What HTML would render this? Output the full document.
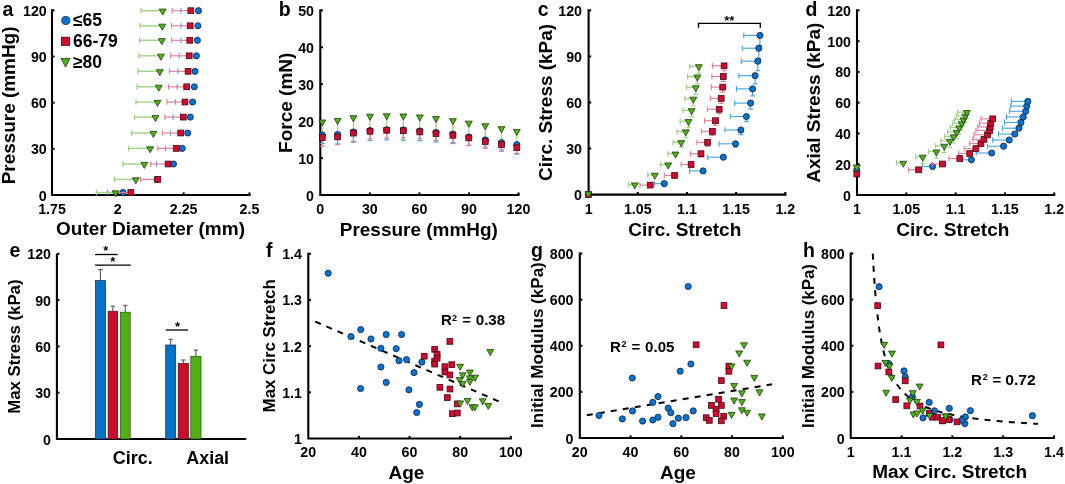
<!DOCTYPE html>
<html><head><meta charset="utf-8"><style>
html,body{margin:0;padding:0;background:#fff;}
svg{display:block;filter:blur(0.3px);}
text{font-family:"Liberation Sans",sans-serif;fill:#000;}
</style></head><body>
<svg width="1065" height="484" viewBox="0 0 1065 484">
<rect width="1065" height="484" fill="#fff"/>
<path d="M52 10.4 V195 H249.5" fill="none" stroke="#000" stroke-width="2.1" stroke-linecap="square"/>
<line x1="52" y1="10.4" x2="54.6" y2="10.4" stroke="#000" stroke-width="2" />
<line x1="52" y1="56.55" x2="54.6" y2="56.55" stroke="#000" stroke-width="2" />
<line x1="52" y1="102.7" x2="54.6" y2="102.7" stroke="#000" stroke-width="2" />
<line x1="52" y1="148.85" x2="54.6" y2="148.85" stroke="#000" stroke-width="2" />
<line x1="117.83" y1="195" x2="117.83" y2="192.4" stroke="#000" stroke-width="2" />
<line x1="183.67" y1="195" x2="183.67" y2="192.4" stroke="#000" stroke-width="2" />
<line x1="249.5" y1="195" x2="249.5" y2="192.4" stroke="#000" stroke-width="2" />
<text x="46.8" y="15.9" font-size="15.5" text-anchor="end" textLength="23.79" lengthAdjust="spacingAndGlyphs" font-weight="bold" >120</text>
<text x="46.8" y="62.05" font-size="15.5" text-anchor="end" textLength="15.86" lengthAdjust="spacingAndGlyphs" font-weight="bold" >90</text>
<text x="46.8" y="108.2" font-size="15.5" text-anchor="end" textLength="15.86" lengthAdjust="spacingAndGlyphs" font-weight="bold" >60</text>
<text x="46.8" y="154.35" font-size="15.5" text-anchor="end" textLength="15.86" lengthAdjust="spacingAndGlyphs" font-weight="bold" >30</text>
<text x="46.8" y="200.5" font-size="15.5" text-anchor="end" textLength="7.93" lengthAdjust="spacingAndGlyphs" font-weight="bold" >0</text>
<text x="52" y="214.1" font-size="15.5" text-anchor="middle" textLength="27.75" lengthAdjust="spacingAndGlyphs" font-weight="bold" >1.75</text>
<text x="117.83" y="214.1" font-size="15.5" text-anchor="middle" textLength="7.93" lengthAdjust="spacingAndGlyphs" font-weight="bold" >2</text>
<text x="183.67" y="214.1" font-size="15.5" text-anchor="middle" textLength="27.75" lengthAdjust="spacingAndGlyphs" font-weight="bold" >2.25</text>
<text x="249.5" y="214.1" font-size="15.5" text-anchor="middle" textLength="19.82" lengthAdjust="spacingAndGlyphs" font-weight="bold" >2.5</text>
<text x="56.04" y="235.2" font-size="18" text-anchor="start" textLength="188.95" lengthAdjust="spacingAndGlyphs" font-weight="bold" >Outer Diameter (mm)</text>
<text x="15.3" y="184.33" font-size="17.5" text-anchor="start" transform="rotate(-90 15.3 184.33)" textLength="157.8" lengthAdjust="spacingAndGlyphs" font-weight="bold" >Pressure (mmHg)</text>
<text x="2.52" y="15.6" font-size="19.5" text-anchor="start" font-weight="bold" >a</text>
<line x1="180.9" y1="7.9" x2="180.9" y2="13.5" stroke="#46a2dc" stroke-width="1.1" />
<line x1="181" y1="23" x2="181" y2="28.6" stroke="#46a2dc" stroke-width="1.1" />
<line x1="181" y1="37.5" x2="181" y2="43.1" stroke="#46a2dc" stroke-width="1.1" />
<line x1="179.3" y1="53" x2="179.3" y2="58.6" stroke="#46a2dc" stroke-width="1.1" />
<line x1="177.8" y1="68.5" x2="177.8" y2="74.1" stroke="#46a2dc" stroke-width="1.1" />
<line x1="177.2" y1="84" x2="177.2" y2="89.6" stroke="#46a2dc" stroke-width="1.1" />
<line x1="175.3" y1="99.2" x2="175.3" y2="104.8" stroke="#46a2dc" stroke-width="1.1" />
<line x1="173.1" y1="114.3" x2="173.1" y2="119.9" stroke="#46a2dc" stroke-width="1.1" />
<line x1="170.7" y1="130.2" x2="170.7" y2="135.8" stroke="#46a2dc" stroke-width="1.1" />
<line x1="165.5" y1="145.6" x2="165.5" y2="151.2" stroke="#46a2dc" stroke-width="1.1" />
<line x1="156.6" y1="161.2" x2="156.6" y2="166.8" stroke="#46a2dc" stroke-width="1.1" />
<line x1="155" y1="176.6" x2="155" y2="182.2" stroke="#46a2dc" stroke-width="1.1" />
<line x1="107.4" y1="192.5" x2="123" y2="192.5" stroke="#46a2dc" stroke-width="1.1" />
<line x1="107.4" y1="189.7" x2="107.4" y2="195.3" stroke="#46a2dc" stroke-width="1.1" />
<circle cx="198.5" cy="10.7" r="3.1" fill="#0a72cf" stroke="#0a2548" stroke-width="0.8"/>
<circle cx="197.9" cy="25.8" r="3.1" fill="#0a72cf" stroke="#0a2548" stroke-width="0.8"/>
<circle cx="197.4" cy="40.3" r="3.1" fill="#0a72cf" stroke="#0a2548" stroke-width="0.8"/>
<circle cx="196.4" cy="55.8" r="3.1" fill="#0a72cf" stroke="#0a2548" stroke-width="0.8"/>
<circle cx="195" cy="71.3" r="3.1" fill="#0a72cf" stroke="#0a2548" stroke-width="0.8"/>
<circle cx="194.3" cy="86.8" r="3.1" fill="#0a72cf" stroke="#0a2548" stroke-width="0.8"/>
<circle cx="192.6" cy="102" r="3.1" fill="#0a72cf" stroke="#0a2548" stroke-width="0.8"/>
<circle cx="190.3" cy="117.1" r="3.1" fill="#0a72cf" stroke="#0a2548" stroke-width="0.8"/>
<circle cx="187.7" cy="133" r="3.1" fill="#0a72cf" stroke="#0a2548" stroke-width="0.8"/>
<circle cx="182.2" cy="148.4" r="3.1" fill="#0a72cf" stroke="#0a2548" stroke-width="0.8"/>
<circle cx="173.5" cy="164" r="3.1" fill="#0a72cf" stroke="#0a2548" stroke-width="0.8"/>
<circle cx="157" cy="179.4" r="3.1" fill="#0a72cf" stroke="#0a2548" stroke-width="0.8"/>
<circle cx="123" cy="192.5" r="3.1" fill="#0a72cf" stroke="#0a2548" stroke-width="0.8"/>
<line x1="172.2" y1="10.7" x2="190.8" y2="10.7" stroke="#e67890" stroke-width="1.1" />
<line x1="172.2" y1="7.9" x2="172.2" y2="13.5" stroke="#e67890" stroke-width="1.1" />
<line x1="171.6" y1="25.8" x2="190.2" y2="25.8" stroke="#e67890" stroke-width="1.1" />
<line x1="171.6" y1="23" x2="171.6" y2="28.6" stroke="#e67890" stroke-width="1.1" />
<line x1="171.6" y1="40.3" x2="189.8" y2="40.3" stroke="#e67890" stroke-width="1.1" />
<line x1="171.6" y1="37.5" x2="171.6" y2="43.1" stroke="#e67890" stroke-width="1.1" />
<line x1="170.6" y1="55.8" x2="189.2" y2="55.8" stroke="#e67890" stroke-width="1.1" />
<line x1="170.6" y1="53" x2="170.6" y2="58.6" stroke="#e67890" stroke-width="1.1" />
<line x1="169.5" y1="71.3" x2="188.1" y2="71.3" stroke="#e67890" stroke-width="1.1" />
<line x1="169.5" y1="68.5" x2="169.5" y2="74.1" stroke="#e67890" stroke-width="1.1" />
<line x1="168.5" y1="86.8" x2="186.7" y2="86.8" stroke="#e67890" stroke-width="1.1" />
<line x1="168.5" y1="84" x2="168.5" y2="89.6" stroke="#e67890" stroke-width="1.1" />
<line x1="167" y1="102" x2="185" y2="102" stroke="#e67890" stroke-width="1.1" />
<line x1="167" y1="99.2" x2="167" y2="104.8" stroke="#e67890" stroke-width="1.1" />
<line x1="164.9" y1="117.1" x2="183.3" y2="117.1" stroke="#e67890" stroke-width="1.1" />
<line x1="164.9" y1="114.3" x2="164.9" y2="119.9" stroke="#e67890" stroke-width="1.1" />
<line x1="162.3" y1="133" x2="180.7" y2="133" stroke="#e67890" stroke-width="1.1" />
<line x1="162.3" y1="130.2" x2="162.3" y2="135.8" stroke="#e67890" stroke-width="1.1" />
<line x1="157.9" y1="148.4" x2="176.2" y2="148.4" stroke="#e67890" stroke-width="1.1" />
<line x1="157.9" y1="145.6" x2="157.9" y2="151.2" stroke="#e67890" stroke-width="1.1" />
<line x1="150.8" y1="164" x2="168.1" y2="164" stroke="#e67890" stroke-width="1.1" />
<line x1="150.8" y1="161.2" x2="150.8" y2="166.8" stroke="#e67890" stroke-width="1.1" />
<line x1="140.5" y1="179.4" x2="157.8" y2="179.4" stroke="#e67890" stroke-width="1.1" />
<line x1="140.5" y1="176.6" x2="140.5" y2="182.2" stroke="#e67890" stroke-width="1.1" />
<line x1="114.5" y1="192.5" x2="130.8" y2="192.5" stroke="#e67890" stroke-width="1.1" />
<line x1="114.5" y1="189.7" x2="114.5" y2="195.3" stroke="#e67890" stroke-width="1.1" />
<rect x="187.9" y="7.8" width="5.8" height="5.8" fill="#cf0b30" stroke="#4a0812" stroke-width="0.8"/>
<rect x="187.3" y="22.9" width="5.8" height="5.8" fill="#cf0b30" stroke="#4a0812" stroke-width="0.8"/>
<rect x="186.9" y="37.4" width="5.8" height="5.8" fill="#cf0b30" stroke="#4a0812" stroke-width="0.8"/>
<rect x="186.3" y="52.9" width="5.8" height="5.8" fill="#cf0b30" stroke="#4a0812" stroke-width="0.8"/>
<rect x="185.2" y="68.4" width="5.8" height="5.8" fill="#cf0b30" stroke="#4a0812" stroke-width="0.8"/>
<rect x="183.8" y="83.9" width="5.8" height="5.8" fill="#cf0b30" stroke="#4a0812" stroke-width="0.8"/>
<rect x="182.1" y="99.1" width="5.8" height="5.8" fill="#cf0b30" stroke="#4a0812" stroke-width="0.8"/>
<rect x="180.4" y="114.2" width="5.8" height="5.8" fill="#cf0b30" stroke="#4a0812" stroke-width="0.8"/>
<rect x="177.8" y="130.1" width="5.8" height="5.8" fill="#cf0b30" stroke="#4a0812" stroke-width="0.8"/>
<rect x="173.3" y="145.5" width="5.8" height="5.8" fill="#cf0b30" stroke="#4a0812" stroke-width="0.8"/>
<rect x="165.2" y="161.1" width="5.8" height="5.8" fill="#cf0b30" stroke="#4a0812" stroke-width="0.8"/>
<rect x="154.9" y="176.5" width="5.8" height="5.8" fill="#cf0b30" stroke="#4a0812" stroke-width="0.8"/>
<rect x="127.9" y="189.6" width="5.8" height="5.8" fill="#cf0b30" stroke="#4a0812" stroke-width="0.8"/>
<line x1="141.2" y1="10.7" x2="162.7" y2="10.7" stroke="#a0d286" stroke-width="1.4" />
<line x1="141.2" y1="7.9" x2="141.2" y2="13.5" stroke="#a0d286" stroke-width="1.4" />
<line x1="140.2" y1="25.8" x2="162.3" y2="25.8" stroke="#a0d286" stroke-width="1.4" />
<line x1="140.2" y1="23" x2="140.2" y2="28.6" stroke="#a0d286" stroke-width="1.4" />
<line x1="139.6" y1="40.3" x2="161.9" y2="40.3" stroke="#a0d286" stroke-width="1.4" />
<line x1="139.6" y1="37.5" x2="139.6" y2="43.1" stroke="#a0d286" stroke-width="1.4" />
<line x1="139" y1="55.8" x2="160.9" y2="55.8" stroke="#a0d286" stroke-width="1.4" />
<line x1="139" y1="53" x2="139" y2="58.6" stroke="#a0d286" stroke-width="1.4" />
<line x1="138.1" y1="71.3" x2="159.8" y2="71.3" stroke="#a0d286" stroke-width="1.4" />
<line x1="138.1" y1="68.5" x2="138.1" y2="74.1" stroke="#a0d286" stroke-width="1.4" />
<line x1="137.1" y1="86.8" x2="158.8" y2="86.8" stroke="#a0d286" stroke-width="1.4" />
<line x1="137.1" y1="84" x2="137.1" y2="89.6" stroke="#a0d286" stroke-width="1.4" />
<line x1="136" y1="102" x2="157.5" y2="102" stroke="#a0d286" stroke-width="1.4" />
<line x1="136" y1="99.2" x2="136" y2="104.8" stroke="#a0d286" stroke-width="1.4" />
<line x1="134.5" y1="117.1" x2="155.5" y2="117.1" stroke="#a0d286" stroke-width="1.4" />
<line x1="134.5" y1="114.3" x2="134.5" y2="119.9" stroke="#a0d286" stroke-width="1.4" />
<line x1="131.7" y1="133" x2="153.4" y2="133" stroke="#a0d286" stroke-width="1.4" />
<line x1="131.7" y1="130.2" x2="131.7" y2="135.8" stroke="#a0d286" stroke-width="1.4" />
<line x1="128.6" y1="148.4" x2="150.1" y2="148.4" stroke="#a0d286" stroke-width="1.4" />
<line x1="128.6" y1="145.6" x2="128.6" y2="151.2" stroke="#a0d286" stroke-width="1.4" />
<line x1="123" y1="164" x2="144.3" y2="164" stroke="#a0d286" stroke-width="1.4" />
<line x1="123" y1="161.2" x2="123" y2="166.8" stroke="#a0d286" stroke-width="1.4" />
<line x1="114.7" y1="179.4" x2="135.8" y2="179.4" stroke="#a0d286" stroke-width="1.4" />
<line x1="114.7" y1="176.6" x2="114.7" y2="182.2" stroke="#a0d286" stroke-width="1.4" />
<line x1="96.4" y1="192.5" x2="115.6" y2="192.5" stroke="#a0d286" stroke-width="1.4" />
<line x1="96.4" y1="189.7" x2="96.4" y2="195.3" stroke="#a0d286" stroke-width="1.4" />
<polygon points="159.25,9.05 166.15,9.05 162.7,15.15" fill="#4fb41a" stroke="#1c3008" stroke-width="0.75" stroke-linejoin="miter"/>
<polygon points="158.85,24.15 165.75,24.15 162.3,30.25" fill="#4fb41a" stroke="#1c3008" stroke-width="0.75" stroke-linejoin="miter"/>
<polygon points="158.45,38.65 165.35,38.65 161.9,44.75" fill="#4fb41a" stroke="#1c3008" stroke-width="0.75" stroke-linejoin="miter"/>
<polygon points="157.45,54.15 164.35,54.15 160.9,60.25" fill="#4fb41a" stroke="#1c3008" stroke-width="0.75" stroke-linejoin="miter"/>
<polygon points="156.35,69.65 163.25,69.65 159.8,75.75" fill="#4fb41a" stroke="#1c3008" stroke-width="0.75" stroke-linejoin="miter"/>
<polygon points="155.35,85.15 162.25,85.15 158.8,91.25" fill="#4fb41a" stroke="#1c3008" stroke-width="0.75" stroke-linejoin="miter"/>
<polygon points="154.05,100.35 160.95,100.35 157.5,106.45" fill="#4fb41a" stroke="#1c3008" stroke-width="0.75" stroke-linejoin="miter"/>
<polygon points="152.05,115.45 158.95,115.45 155.5,121.55" fill="#4fb41a" stroke="#1c3008" stroke-width="0.75" stroke-linejoin="miter"/>
<polygon points="149.95,131.35 156.85,131.35 153.4,137.45" fill="#4fb41a" stroke="#1c3008" stroke-width="0.75" stroke-linejoin="miter"/>
<polygon points="146.65,146.75 153.55,146.75 150.1,152.85" fill="#4fb41a" stroke="#1c3008" stroke-width="0.75" stroke-linejoin="miter"/>
<polygon points="140.85,162.35 147.75,162.35 144.3,168.45" fill="#4fb41a" stroke="#1c3008" stroke-width="0.75" stroke-linejoin="miter"/>
<polygon points="132.35,177.75 139.25,177.75 135.8,183.85" fill="#4fb41a" stroke="#1c3008" stroke-width="0.75" stroke-linejoin="miter"/>
<polygon points="112.15,190.85 119.05,190.85 115.6,196.95" fill="#4fb41a" stroke="#1c3008" stroke-width="0.75" stroke-linejoin="miter"/>
<circle cx="65.8" cy="20.5" r="4.1" fill="#0a72cf" stroke="#0a2548" stroke-width="0.8"/>
<rect x="61.4" y="37.2" width="8.2" height="8.2" fill="#cf0b30" stroke="#4a0812" stroke-width="0.8"/>
<polygon points="61,58.5 70,58.5 65.5,67.1" fill="#4fb41a" stroke="#1c3008" stroke-width="0.75" stroke-linejoin="miter"/>
<text x="73" y="26.3" font-size="17.5" text-anchor="start" font-weight="bold" >≤65</text>
<text x="73" y="46.8" font-size="17.5" text-anchor="start" font-weight="bold" >66-79</text>
<text x="73" y="68.2" font-size="17.5" text-anchor="start" font-weight="bold" >≥80</text>
<path d="M320.3 10.4 V195 H518.5" fill="none" stroke="#000" stroke-width="2.1" stroke-linecap="square"/>
<line x1="320.3" y1="10.4" x2="322.9" y2="10.4" stroke="#000" stroke-width="2" />
<line x1="320.3" y1="47.32" x2="322.9" y2="47.32" stroke="#000" stroke-width="2" />
<line x1="320.3" y1="84.24" x2="322.9" y2="84.24" stroke="#000" stroke-width="2" />
<line x1="320.3" y1="121.16" x2="322.9" y2="121.16" stroke="#000" stroke-width="2" />
<line x1="320.3" y1="158.08" x2="322.9" y2="158.08" stroke="#000" stroke-width="2" />
<line x1="369.85" y1="195" x2="369.85" y2="192.4" stroke="#000" stroke-width="2" />
<line x1="419.4" y1="195" x2="419.4" y2="192.4" stroke="#000" stroke-width="2" />
<line x1="468.95" y1="195" x2="468.95" y2="192.4" stroke="#000" stroke-width="2" />
<line x1="518.5" y1="195" x2="518.5" y2="192.4" stroke="#000" stroke-width="2" />
<text x="314" y="15.9" font-size="15.5" text-anchor="end" textLength="15.86" lengthAdjust="spacingAndGlyphs" font-weight="bold" >50</text>
<text x="314" y="52.82" font-size="15.5" text-anchor="end" textLength="15.86" lengthAdjust="spacingAndGlyphs" font-weight="bold" >40</text>
<text x="314" y="89.74" font-size="15.5" text-anchor="end" textLength="15.86" lengthAdjust="spacingAndGlyphs" font-weight="bold" >30</text>
<text x="314" y="126.66" font-size="15.5" text-anchor="end" textLength="15.86" lengthAdjust="spacingAndGlyphs" font-weight="bold" >20</text>
<text x="314" y="163.58" font-size="15.5" text-anchor="end" textLength="15.86" lengthAdjust="spacingAndGlyphs" font-weight="bold" >10</text>
<text x="314" y="200.5" font-size="15.5" text-anchor="end" textLength="7.93" lengthAdjust="spacingAndGlyphs" font-weight="bold" >0</text>
<text x="320.3" y="214" font-size="15.5" text-anchor="middle" textLength="7.93" lengthAdjust="spacingAndGlyphs" font-weight="bold" >0</text>
<text x="369.85" y="214" font-size="15.5" text-anchor="middle" textLength="15.86" lengthAdjust="spacingAndGlyphs" font-weight="bold" >30</text>
<text x="419.4" y="214" font-size="15.5" text-anchor="middle" textLength="15.86" lengthAdjust="spacingAndGlyphs" font-weight="bold" >60</text>
<text x="468.95" y="214" font-size="15.5" text-anchor="middle" textLength="15.86" lengthAdjust="spacingAndGlyphs" font-weight="bold" >90</text>
<text x="518.5" y="214" font-size="15.5" text-anchor="middle" textLength="23.79" lengthAdjust="spacingAndGlyphs" font-weight="bold" >120</text>
<text x="339.77" y="235.5" font-size="18" text-anchor="start" textLength="158.11" lengthAdjust="spacingAndGlyphs" font-weight="bold" >Pressure (mmHg)</text>
<text x="292" y="152.93" font-size="17.5" text-anchor="start" transform="rotate(-90 292 152.93)" textLength="100.25" lengthAdjust="spacingAndGlyphs" font-weight="bold" >Force (mN)</text>
<text x="278.63" y="15.5" font-size="19.5" text-anchor="start" font-weight="bold" >b</text>
<line x1="322.3" y1="121.6" x2="322.3" y2="132.5" stroke="#a0d286" stroke-width="1.3" />
<line x1="337.6" y1="120.1" x2="337.6" y2="132" stroke="#a0d286" stroke-width="1.3" />
<line x1="353.4" y1="117.3" x2="353.4" y2="129.5" stroke="#a0d286" stroke-width="1.3" />
<line x1="370" y1="115.9" x2="370" y2="128" stroke="#a0d286" stroke-width="1.3" />
<line x1="386.7" y1="115.4" x2="386.7" y2="127.3" stroke="#a0d286" stroke-width="1.3" />
<line x1="403.3" y1="115.6" x2="403.3" y2="127.5" stroke="#a0d286" stroke-width="1.3" />
<line x1="419.8" y1="116.6" x2="419.8" y2="128.5" stroke="#a0d286" stroke-width="1.3" />
<line x1="436" y1="118.2" x2="436" y2="130" stroke="#a0d286" stroke-width="1.3" />
<line x1="452.9" y1="120.3" x2="452.9" y2="131.5" stroke="#a0d286" stroke-width="1.3" />
<line x1="468.8" y1="122.8" x2="468.8" y2="134.5" stroke="#a0d286" stroke-width="1.3" />
<line x1="485.3" y1="125.4" x2="485.3" y2="137.4" stroke="#a0d286" stroke-width="1.3" />
<line x1="501.5" y1="128.3" x2="501.5" y2="140.1" stroke="#a0d286" stroke-width="1.3" />
<line x1="516.8" y1="131.1" x2="516.8" y2="142.2" stroke="#a0d286" stroke-width="1.3" />
<line x1="322.3" y1="135" x2="322.3" y2="143.5" stroke="#46a2dc" stroke-width="1.1" />
<line x1="319.8" y1="143.5" x2="324.8" y2="143.5" stroke="#46a2dc" stroke-width="1.1" />
<line x1="337.6" y1="134.5" x2="337.6" y2="143.9" stroke="#46a2dc" stroke-width="1.1" />
<line x1="335.1" y1="143.9" x2="340.1" y2="143.9" stroke="#46a2dc" stroke-width="1.1" />
<line x1="353.4" y1="132" x2="353.4" y2="142.2" stroke="#46a2dc" stroke-width="1.1" />
<line x1="350.9" y1="142.2" x2="355.9" y2="142.2" stroke="#46a2dc" stroke-width="1.1" />
<line x1="370" y1="130.5" x2="370" y2="140.6" stroke="#46a2dc" stroke-width="1.1" />
<line x1="367.5" y1="140.6" x2="372.5" y2="140.6" stroke="#46a2dc" stroke-width="1.1" />
<line x1="386.7" y1="129.8" x2="386.7" y2="139.9" stroke="#46a2dc" stroke-width="1.1" />
<line x1="384.2" y1="139.9" x2="389.2" y2="139.9" stroke="#46a2dc" stroke-width="1.1" />
<line x1="403.3" y1="130" x2="403.3" y2="140.2" stroke="#46a2dc" stroke-width="1.1" />
<line x1="400.8" y1="140.2" x2="405.8" y2="140.2" stroke="#46a2dc" stroke-width="1.1" />
<line x1="419.8" y1="131" x2="419.8" y2="140.7" stroke="#46a2dc" stroke-width="1.1" />
<line x1="417.3" y1="140.7" x2="422.3" y2="140.7" stroke="#46a2dc" stroke-width="1.1" />
<line x1="436" y1="132.5" x2="436" y2="142" stroke="#46a2dc" stroke-width="1.1" />
<line x1="433.5" y1="142" x2="438.5" y2="142" stroke="#46a2dc" stroke-width="1.1" />
<line x1="452.9" y1="134" x2="452.9" y2="143.6" stroke="#46a2dc" stroke-width="1.1" />
<line x1="450.4" y1="143.6" x2="455.4" y2="143.6" stroke="#46a2dc" stroke-width="1.1" />
<line x1="468.8" y1="137" x2="468.8" y2="145.6" stroke="#46a2dc" stroke-width="1.1" />
<line x1="466.3" y1="145.6" x2="471.3" y2="145.6" stroke="#46a2dc" stroke-width="1.1" />
<line x1="485.3" y1="139.9" x2="485.3" y2="147" stroke="#46a2dc" stroke-width="1.1" />
<line x1="482.8" y1="147" x2="487.8" y2="147" stroke="#46a2dc" stroke-width="1.1" />
<line x1="501.5" y1="142.6" x2="501.5" y2="150" stroke="#46a2dc" stroke-width="1.1" />
<line x1="499" y1="150" x2="504" y2="150" stroke="#46a2dc" stroke-width="1.1" />
<line x1="516.8" y1="144.7" x2="516.8" y2="154.2" stroke="#46a2dc" stroke-width="1.1" />
<line x1="514.3" y1="154.2" x2="519.3" y2="154.2" stroke="#46a2dc" stroke-width="1.1" />
<circle cx="322.3" cy="135" r="3.1" fill="#0a72cf" stroke="#0a2548" stroke-width="0.8"/>
<circle cx="337.6" cy="134.5" r="3.1" fill="#0a72cf" stroke="#0a2548" stroke-width="0.8"/>
<circle cx="353.4" cy="132" r="3.1" fill="#0a72cf" stroke="#0a2548" stroke-width="0.8"/>
<circle cx="370" cy="130.5" r="3.1" fill="#0a72cf" stroke="#0a2548" stroke-width="0.8"/>
<circle cx="386.7" cy="129.8" r="3.1" fill="#0a72cf" stroke="#0a2548" stroke-width="0.8"/>
<circle cx="403.3" cy="130" r="3.1" fill="#0a72cf" stroke="#0a2548" stroke-width="0.8"/>
<circle cx="419.8" cy="131" r="3.1" fill="#0a72cf" stroke="#0a2548" stroke-width="0.8"/>
<circle cx="436" cy="132.5" r="3.1" fill="#0a72cf" stroke="#0a2548" stroke-width="0.8"/>
<circle cx="452.9" cy="134" r="3.1" fill="#0a72cf" stroke="#0a2548" stroke-width="0.8"/>
<circle cx="468.8" cy="137" r="3.1" fill="#0a72cf" stroke="#0a2548" stroke-width="0.8"/>
<circle cx="485.3" cy="139.9" r="3.1" fill="#0a72cf" stroke="#0a2548" stroke-width="0.8"/>
<circle cx="501.5" cy="142.6" r="3.1" fill="#0a72cf" stroke="#0a2548" stroke-width="0.8"/>
<circle cx="516.8" cy="144.7" r="3.1" fill="#0a72cf" stroke="#0a2548" stroke-width="0.8"/>
<line x1="322.3" y1="137.5" x2="322.3" y2="146.2" stroke="#e67890" stroke-width="1.1" />
<line x1="319.8" y1="146.2" x2="324.8" y2="146.2" stroke="#e67890" stroke-width="1.1" />
<line x1="337.6" y1="136.9" x2="337.6" y2="144.7" stroke="#e67890" stroke-width="1.1" />
<line x1="335.1" y1="144.7" x2="340.1" y2="144.7" stroke="#e67890" stroke-width="1.1" />
<line x1="353.4" y1="133.1" x2="353.4" y2="141.4" stroke="#e67890" stroke-width="1.1" />
<line x1="350.9" y1="141.4" x2="355.9" y2="141.4" stroke="#e67890" stroke-width="1.1" />
<line x1="370" y1="131.3" x2="370" y2="138.9" stroke="#e67890" stroke-width="1.1" />
<line x1="367.5" y1="138.9" x2="372.5" y2="138.9" stroke="#e67890" stroke-width="1.1" />
<line x1="386.7" y1="130.3" x2="386.7" y2="138" stroke="#e67890" stroke-width="1.1" />
<line x1="384.2" y1="138" x2="389.2" y2="138" stroke="#e67890" stroke-width="1.1" />
<line x1="403.3" y1="130.7" x2="403.3" y2="137.9" stroke="#e67890" stroke-width="1.1" />
<line x1="400.8" y1="137.9" x2="405.8" y2="137.9" stroke="#e67890" stroke-width="1.1" />
<line x1="419.8" y1="131.9" x2="419.8" y2="138.7" stroke="#e67890" stroke-width="1.1" />
<line x1="417.3" y1="138.7" x2="422.3" y2="138.7" stroke="#e67890" stroke-width="1.1" />
<line x1="436" y1="133.6" x2="436" y2="140.5" stroke="#e67890" stroke-width="1.1" />
<line x1="433.5" y1="140.5" x2="438.5" y2="140.5" stroke="#e67890" stroke-width="1.1" />
<line x1="452.9" y1="135.3" x2="452.9" y2="142.5" stroke="#e67890" stroke-width="1.1" />
<line x1="450.4" y1="142.5" x2="455.4" y2="142.5" stroke="#e67890" stroke-width="1.1" />
<line x1="468.8" y1="137.9" x2="468.8" y2="145.4" stroke="#e67890" stroke-width="1.1" />
<line x1="466.3" y1="145.4" x2="471.3" y2="145.4" stroke="#e67890" stroke-width="1.1" />
<line x1="485.3" y1="141.5" x2="485.3" y2="148.4" stroke="#e67890" stroke-width="1.1" />
<line x1="482.8" y1="148.4" x2="487.8" y2="148.4" stroke="#e67890" stroke-width="1.1" />
<line x1="501.5" y1="144.6" x2="501.5" y2="151.3" stroke="#e67890" stroke-width="1.1" />
<line x1="499" y1="151.3" x2="504" y2="151.3" stroke="#e67890" stroke-width="1.1" />
<line x1="516.8" y1="147.7" x2="516.8" y2="153.4" stroke="#e67890" stroke-width="1.1" />
<line x1="514.3" y1="153.4" x2="519.3" y2="153.4" stroke="#e67890" stroke-width="1.1" />
<rect x="319.4" y="134.6" width="5.8" height="5.8" fill="#cf0b30" stroke="#4a0812" stroke-width="0.8"/>
<rect x="334.7" y="134" width="5.8" height="5.8" fill="#cf0b30" stroke="#4a0812" stroke-width="0.8"/>
<rect x="350.5" y="130.2" width="5.8" height="5.8" fill="#cf0b30" stroke="#4a0812" stroke-width="0.8"/>
<rect x="367.1" y="128.4" width="5.8" height="5.8" fill="#cf0b30" stroke="#4a0812" stroke-width="0.8"/>
<rect x="383.8" y="127.4" width="5.8" height="5.8" fill="#cf0b30" stroke="#4a0812" stroke-width="0.8"/>
<rect x="400.4" y="127.8" width="5.8" height="5.8" fill="#cf0b30" stroke="#4a0812" stroke-width="0.8"/>
<rect x="416.9" y="129" width="5.8" height="5.8" fill="#cf0b30" stroke="#4a0812" stroke-width="0.8"/>
<rect x="433.1" y="130.7" width="5.8" height="5.8" fill="#cf0b30" stroke="#4a0812" stroke-width="0.8"/>
<rect x="450" y="132.4" width="5.8" height="5.8" fill="#cf0b30" stroke="#4a0812" stroke-width="0.8"/>
<rect x="465.9" y="135" width="5.8" height="5.8" fill="#cf0b30" stroke="#4a0812" stroke-width="0.8"/>
<rect x="482.4" y="138.6" width="5.8" height="5.8" fill="#cf0b30" stroke="#4a0812" stroke-width="0.8"/>
<rect x="498.6" y="141.7" width="5.8" height="5.8" fill="#cf0b30" stroke="#4a0812" stroke-width="0.8"/>
<rect x="513.9" y="144.8" width="5.8" height="5.8" fill="#cf0b30" stroke="#4a0812" stroke-width="0.8"/>
<polygon points="318.85,119.95 325.75,119.95 322.3,126.05" fill="#4fb41a" stroke="#1c3008" stroke-width="0.75" stroke-linejoin="miter"/>
<polygon points="334.15,118.45 341.05,118.45 337.6,124.55" fill="#4fb41a" stroke="#1c3008" stroke-width="0.75" stroke-linejoin="miter"/>
<polygon points="349.95,115.65 356.85,115.65 353.4,121.75" fill="#4fb41a" stroke="#1c3008" stroke-width="0.75" stroke-linejoin="miter"/>
<polygon points="366.55,114.25 373.45,114.25 370,120.35" fill="#4fb41a" stroke="#1c3008" stroke-width="0.75" stroke-linejoin="miter"/>
<polygon points="383.25,113.75 390.15,113.75 386.7,119.85" fill="#4fb41a" stroke="#1c3008" stroke-width="0.75" stroke-linejoin="miter"/>
<polygon points="399.85,113.95 406.75,113.95 403.3,120.05" fill="#4fb41a" stroke="#1c3008" stroke-width="0.75" stroke-linejoin="miter"/>
<polygon points="416.35,114.95 423.25,114.95 419.8,121.05" fill="#4fb41a" stroke="#1c3008" stroke-width="0.75" stroke-linejoin="miter"/>
<polygon points="432.55,116.55 439.45,116.55 436,122.65" fill="#4fb41a" stroke="#1c3008" stroke-width="0.75" stroke-linejoin="miter"/>
<polygon points="449.45,118.65 456.35,118.65 452.9,124.75" fill="#4fb41a" stroke="#1c3008" stroke-width="0.75" stroke-linejoin="miter"/>
<polygon points="465.35,121.15 472.25,121.15 468.8,127.25" fill="#4fb41a" stroke="#1c3008" stroke-width="0.75" stroke-linejoin="miter"/>
<polygon points="481.85,123.75 488.75,123.75 485.3,129.85" fill="#4fb41a" stroke="#1c3008" stroke-width="0.75" stroke-linejoin="miter"/>
<polygon points="498.05,126.65 504.95,126.65 501.5,132.75" fill="#4fb41a" stroke="#1c3008" stroke-width="0.75" stroke-linejoin="miter"/>
<polygon points="513.35,129.45 520.25,129.45 516.8,135.55" fill="#4fb41a" stroke="#1c3008" stroke-width="0.75" stroke-linejoin="miter"/>
<path d="M588.6 10.4 V194.6 H785.3" fill="none" stroke="#000" stroke-width="2.1" stroke-linecap="square"/>
<line x1="588.6" y1="10.4" x2="591.2" y2="10.4" stroke="#000" stroke-width="2" />
<line x1="588.6" y1="56.45" x2="591.2" y2="56.45" stroke="#000" stroke-width="2" />
<line x1="588.6" y1="102.5" x2="591.2" y2="102.5" stroke="#000" stroke-width="2" />
<line x1="588.6" y1="148.55" x2="591.2" y2="148.55" stroke="#000" stroke-width="2" />
<line x1="637.77" y1="194.6" x2="637.77" y2="192" stroke="#000" stroke-width="2" />
<line x1="686.95" y1="194.6" x2="686.95" y2="192" stroke="#000" stroke-width="2" />
<line x1="736.12" y1="194.6" x2="736.12" y2="192" stroke="#000" stroke-width="2" />
<line x1="785.3" y1="194.6" x2="785.3" y2="192" stroke="#000" stroke-width="2" />
<text x="582" y="15.9" font-size="15.5" text-anchor="end" textLength="23.79" lengthAdjust="spacingAndGlyphs" font-weight="bold" >120</text>
<text x="582" y="61.95" font-size="15.5" text-anchor="end" textLength="15.86" lengthAdjust="spacingAndGlyphs" font-weight="bold" >90</text>
<text x="582" y="108" font-size="15.5" text-anchor="end" textLength="15.86" lengthAdjust="spacingAndGlyphs" font-weight="bold" >60</text>
<text x="582" y="154.05" font-size="15.5" text-anchor="end" textLength="15.86" lengthAdjust="spacingAndGlyphs" font-weight="bold" >30</text>
<text x="582" y="200.1" font-size="15.5" text-anchor="end" textLength="7.93" lengthAdjust="spacingAndGlyphs" font-weight="bold" >0</text>
<text x="588.6" y="214" font-size="15.5" text-anchor="middle" textLength="7.93" lengthAdjust="spacingAndGlyphs" font-weight="bold" >1</text>
<text x="637.77" y="214" font-size="15.5" text-anchor="middle" textLength="27.75" lengthAdjust="spacingAndGlyphs" font-weight="bold" >1.05</text>
<text x="686.95" y="214" font-size="15.5" text-anchor="middle" textLength="19.82" lengthAdjust="spacingAndGlyphs" font-weight="bold" >1.1</text>
<text x="736.12" y="214" font-size="15.5" text-anchor="middle" textLength="27.75" lengthAdjust="spacingAndGlyphs" font-weight="bold" >1.15</text>
<text x="785.3" y="214" font-size="15.5" text-anchor="middle" textLength="19.82" lengthAdjust="spacingAndGlyphs" font-weight="bold" >1.2</text>
<text x="628.24" y="235.5" font-size="18" text-anchor="start" textLength="113.03" lengthAdjust="spacingAndGlyphs" font-weight="bold" >Circ. Stretch</text>
<text x="552.5" y="180.96" font-size="17.5" text-anchor="start" transform="rotate(-90 552.5 180.96)" textLength="157.1" lengthAdjust="spacingAndGlyphs" font-weight="bold" >Circ. Stress (kPa)</text>
<text x="537.72" y="15.5" font-size="19.5" text-anchor="start" font-weight="bold" >c</text>
<line x1="654.4" y1="183.7" x2="664.3" y2="183.7" stroke="#46a2dc" stroke-width="1.1" />
<line x1="654.4" y1="180.9" x2="654.4" y2="186.5" stroke="#46a2dc" stroke-width="1.1" />
<line x1="689.6" y1="170.9" x2="703.1" y2="170.9" stroke="#46a2dc" stroke-width="1.1" />
<line x1="689.6" y1="168.1" x2="689.6" y2="173.7" stroke="#46a2dc" stroke-width="1.1" />
<line x1="707.8" y1="157.2" x2="723.3" y2="157.2" stroke="#46a2dc" stroke-width="1.1" />
<line x1="707.8" y1="154.4" x2="707.8" y2="160" stroke="#46a2dc" stroke-width="1.1" />
<line x1="719.2" y1="143.8" x2="735.5" y2="143.8" stroke="#46a2dc" stroke-width="1.1" />
<line x1="719.2" y1="141" x2="719.2" y2="146.6" stroke="#46a2dc" stroke-width="1.1" />
<line x1="735.5" y1="143.8" x2="735.5" y2="147.1" stroke="#46a2dc" stroke-width="1.1" />
<line x1="733" y1="147.1" x2="738" y2="147.1" stroke="#46a2dc" stroke-width="1.1" />
<line x1="724.8" y1="130" x2="740.9" y2="130" stroke="#46a2dc" stroke-width="1.1" />
<line x1="724.8" y1="127.2" x2="724.8" y2="132.8" stroke="#46a2dc" stroke-width="1.1" />
<line x1="740.9" y1="130" x2="740.9" y2="134.7" stroke="#46a2dc" stroke-width="1.1" />
<line x1="738.4" y1="134.7" x2="743.4" y2="134.7" stroke="#46a2dc" stroke-width="1.1" />
<line x1="730.3" y1="116.5" x2="746.4" y2="116.5" stroke="#46a2dc" stroke-width="1.1" />
<line x1="730.3" y1="113.7" x2="730.3" y2="119.3" stroke="#46a2dc" stroke-width="1.1" />
<line x1="746.4" y1="116.5" x2="746.4" y2="121.5" stroke="#46a2dc" stroke-width="1.1" />
<line x1="743.9" y1="121.5" x2="748.9" y2="121.5" stroke="#46a2dc" stroke-width="1.1" />
<line x1="734.7" y1="103.1" x2="750.6" y2="103.1" stroke="#46a2dc" stroke-width="1.1" />
<line x1="734.7" y1="100.3" x2="734.7" y2="105.9" stroke="#46a2dc" stroke-width="1.1" />
<line x1="750.6" y1="103.1" x2="750.6" y2="109.1" stroke="#46a2dc" stroke-width="1.1" />
<line x1="748.1" y1="109.1" x2="753.1" y2="109.1" stroke="#46a2dc" stroke-width="1.1" />
<line x1="736.5" y1="88.9" x2="752.6" y2="88.9" stroke="#46a2dc" stroke-width="1.1" />
<line x1="736.5" y1="86.1" x2="736.5" y2="91.7" stroke="#46a2dc" stroke-width="1.1" />
<line x1="752.6" y1="88.9" x2="752.6" y2="95.9" stroke="#46a2dc" stroke-width="1.1" />
<line x1="750.1" y1="95.9" x2="755.1" y2="95.9" stroke="#46a2dc" stroke-width="1.1" />
<line x1="738.8" y1="75.7" x2="755.1" y2="75.7" stroke="#46a2dc" stroke-width="1.1" />
<line x1="738.8" y1="72.9" x2="738.8" y2="78.5" stroke="#46a2dc" stroke-width="1.1" />
<line x1="755.1" y1="75.7" x2="755.1" y2="83.9" stroke="#46a2dc" stroke-width="1.1" />
<line x1="752.6" y1="83.9" x2="757.6" y2="83.9" stroke="#46a2dc" stroke-width="1.1" />
<line x1="741.3" y1="61.2" x2="757.8" y2="61.2" stroke="#46a2dc" stroke-width="1.1" />
<line x1="741.3" y1="58.4" x2="741.3" y2="64" stroke="#46a2dc" stroke-width="1.1" />
<line x1="757.8" y1="61.2" x2="757.8" y2="70.7" stroke="#46a2dc" stroke-width="1.1" />
<line x1="755.3" y1="70.7" x2="760.3" y2="70.7" stroke="#46a2dc" stroke-width="1.1" />
<line x1="742.3" y1="48.2" x2="758.8" y2="48.2" stroke="#46a2dc" stroke-width="1.1" />
<line x1="742.3" y1="45.4" x2="742.3" y2="51" stroke="#46a2dc" stroke-width="1.1" />
<line x1="758.8" y1="48.2" x2="758.8" y2="58.2" stroke="#46a2dc" stroke-width="1.1" />
<line x1="756.3" y1="58.2" x2="761.3" y2="58.2" stroke="#46a2dc" stroke-width="1.1" />
<line x1="743.8" y1="35.4" x2="759.9" y2="35.4" stroke="#46a2dc" stroke-width="1.1" />
<line x1="743.8" y1="32.6" x2="743.8" y2="38.2" stroke="#46a2dc" stroke-width="1.1" />
<line x1="759.9" y1="35.4" x2="759.9" y2="45.4" stroke="#46a2dc" stroke-width="1.1" />
<line x1="757.4" y1="45.4" x2="762.4" y2="45.4" stroke="#46a2dc" stroke-width="1.1" />
<circle cx="588.5" cy="194.6" r="3.1" fill="#0a72cf" stroke="#0a2548" stroke-width="0.8"/>
<circle cx="664.3" cy="183.7" r="3.1" fill="#0a72cf" stroke="#0a2548" stroke-width="0.8"/>
<circle cx="703.1" cy="170.9" r="3.1" fill="#0a72cf" stroke="#0a2548" stroke-width="0.8"/>
<circle cx="723.3" cy="157.2" r="3.1" fill="#0a72cf" stroke="#0a2548" stroke-width="0.8"/>
<circle cx="735.5" cy="143.8" r="3.1" fill="#0a72cf" stroke="#0a2548" stroke-width="0.8"/>
<circle cx="740.9" cy="130" r="3.1" fill="#0a72cf" stroke="#0a2548" stroke-width="0.8"/>
<circle cx="746.4" cy="116.5" r="3.1" fill="#0a72cf" stroke="#0a2548" stroke-width="0.8"/>
<circle cx="750.6" cy="103.1" r="3.1" fill="#0a72cf" stroke="#0a2548" stroke-width="0.8"/>
<circle cx="752.6" cy="88.9" r="3.1" fill="#0a72cf" stroke="#0a2548" stroke-width="0.8"/>
<circle cx="755.1" cy="75.7" r="3.1" fill="#0a72cf" stroke="#0a2548" stroke-width="0.8"/>
<circle cx="757.8" cy="61.2" r="3.1" fill="#0a72cf" stroke="#0a2548" stroke-width="0.8"/>
<circle cx="758.8" cy="48.2" r="3.1" fill="#0a72cf" stroke="#0a2548" stroke-width="0.8"/>
<circle cx="759.9" cy="35.4" r="3.1" fill="#0a72cf" stroke="#0a2548" stroke-width="0.8"/>
<line x1="639.9" y1="185.1" x2="650.2" y2="185.1" stroke="#e67890" stroke-width="1.1" />
<line x1="639.9" y1="182.3" x2="639.9" y2="187.9" stroke="#e67890" stroke-width="1.1" />
<line x1="664.3" y1="175.4" x2="674.6" y2="175.4" stroke="#e67890" stroke-width="1.1" />
<line x1="664.3" y1="172.6" x2="664.3" y2="178.2" stroke="#e67890" stroke-width="1.1" />
<line x1="681.2" y1="164.5" x2="691.1" y2="164.5" stroke="#e67890" stroke-width="1.1" />
<line x1="681.2" y1="161.7" x2="681.2" y2="167.3" stroke="#e67890" stroke-width="1.1" />
<line x1="690.7" y1="153.7" x2="701" y2="153.7" stroke="#e67890" stroke-width="1.1" />
<line x1="690.7" y1="150.9" x2="690.7" y2="156.5" stroke="#e67890" stroke-width="1.1" />
<line x1="701" y1="153.7" x2="701" y2="157.2" stroke="#e67890" stroke-width="1.1" />
<line x1="698.5" y1="157.2" x2="703.5" y2="157.2" stroke="#e67890" stroke-width="1.1" />
<line x1="696.9" y1="142.4" x2="707.6" y2="142.4" stroke="#e67890" stroke-width="1.1" />
<line x1="696.9" y1="139.6" x2="696.9" y2="145.2" stroke="#e67890" stroke-width="1.1" />
<line x1="707.6" y1="142.4" x2="707.6" y2="146.4" stroke="#e67890" stroke-width="1.1" />
<line x1="705.1" y1="146.4" x2="710.1" y2="146.4" stroke="#e67890" stroke-width="1.1" />
<line x1="701.4" y1="131.4" x2="712.4" y2="131.4" stroke="#e67890" stroke-width="1.1" />
<line x1="701.4" y1="128.6" x2="701.4" y2="134.2" stroke="#e67890" stroke-width="1.1" />
<line x1="712.4" y1="131.4" x2="712.4" y2="135.4" stroke="#e67890" stroke-width="1.1" />
<line x1="709.9" y1="135.4" x2="714.9" y2="135.4" stroke="#e67890" stroke-width="1.1" />
<line x1="704.5" y1="120.7" x2="715.5" y2="120.7" stroke="#e67890" stroke-width="1.1" />
<line x1="704.5" y1="117.9" x2="704.5" y2="123.5" stroke="#e67890" stroke-width="1.1" />
<line x1="715.5" y1="120.7" x2="715.5" y2="125.2" stroke="#e67890" stroke-width="1.1" />
<line x1="713" y1="125.2" x2="718" y2="125.2" stroke="#e67890" stroke-width="1.1" />
<line x1="707.6" y1="109.3" x2="719.2" y2="109.3" stroke="#e67890" stroke-width="1.1" />
<line x1="707.6" y1="106.5" x2="707.6" y2="112.1" stroke="#e67890" stroke-width="1.1" />
<line x1="719.2" y1="109.3" x2="719.2" y2="113.8" stroke="#e67890" stroke-width="1.1" />
<line x1="716.7" y1="113.8" x2="721.7" y2="113.8" stroke="#e67890" stroke-width="1.1" />
<line x1="710.3" y1="98.4" x2="721.2" y2="98.4" stroke="#e67890" stroke-width="1.1" />
<line x1="710.3" y1="95.6" x2="710.3" y2="101.2" stroke="#e67890" stroke-width="1.1" />
<line x1="721.2" y1="98.4" x2="721.2" y2="103.4" stroke="#e67890" stroke-width="1.1" />
<line x1="718.7" y1="103.4" x2="723.7" y2="103.4" stroke="#e67890" stroke-width="1.1" />
<line x1="711.3" y1="87.1" x2="722.7" y2="87.1" stroke="#e67890" stroke-width="1.1" />
<line x1="711.3" y1="84.3" x2="711.3" y2="89.9" stroke="#e67890" stroke-width="1.1" />
<line x1="722.7" y1="87.1" x2="722.7" y2="92.1" stroke="#e67890" stroke-width="1.1" />
<line x1="720.2" y1="92.1" x2="725.2" y2="92.1" stroke="#e67890" stroke-width="1.1" />
<line x1="711.9" y1="76.5" x2="723.3" y2="76.5" stroke="#e67890" stroke-width="1.1" />
<line x1="711.9" y1="73.7" x2="711.9" y2="79.3" stroke="#e67890" stroke-width="1.1" />
<line x1="723.3" y1="76.5" x2="723.3" y2="81.5" stroke="#e67890" stroke-width="1.1" />
<line x1="720.8" y1="81.5" x2="725.8" y2="81.5" stroke="#e67890" stroke-width="1.1" />
<line x1="712.4" y1="65.8" x2="724.1" y2="65.8" stroke="#e67890" stroke-width="1.1" />
<line x1="712.4" y1="63" x2="712.4" y2="68.6" stroke="#e67890" stroke-width="1.1" />
<line x1="724.1" y1="65.8" x2="724.1" y2="70.8" stroke="#e67890" stroke-width="1.1" />
<line x1="721.6" y1="70.8" x2="726.6" y2="70.8" stroke="#e67890" stroke-width="1.1" />
<rect x="585.6" y="191.7" width="5.8" height="5.8" fill="#cf0b30" stroke="#4a0812" stroke-width="0.8"/>
<rect x="647.3" y="182.2" width="5.8" height="5.8" fill="#cf0b30" stroke="#4a0812" stroke-width="0.8"/>
<rect x="671.7" y="172.5" width="5.8" height="5.8" fill="#cf0b30" stroke="#4a0812" stroke-width="0.8"/>
<rect x="688.2" y="161.6" width="5.8" height="5.8" fill="#cf0b30" stroke="#4a0812" stroke-width="0.8"/>
<rect x="698.1" y="150.8" width="5.8" height="5.8" fill="#cf0b30" stroke="#4a0812" stroke-width="0.8"/>
<rect x="704.7" y="139.5" width="5.8" height="5.8" fill="#cf0b30" stroke="#4a0812" stroke-width="0.8"/>
<rect x="709.5" y="128.5" width="5.8" height="5.8" fill="#cf0b30" stroke="#4a0812" stroke-width="0.8"/>
<rect x="712.6" y="117.8" width="5.8" height="5.8" fill="#cf0b30" stroke="#4a0812" stroke-width="0.8"/>
<rect x="716.3" y="106.4" width="5.8" height="5.8" fill="#cf0b30" stroke="#4a0812" stroke-width="0.8"/>
<rect x="718.3" y="95.5" width="5.8" height="5.8" fill="#cf0b30" stroke="#4a0812" stroke-width="0.8"/>
<rect x="719.8" y="84.2" width="5.8" height="5.8" fill="#cf0b30" stroke="#4a0812" stroke-width="0.8"/>
<rect x="720.4" y="73.6" width="5.8" height="5.8" fill="#cf0b30" stroke="#4a0812" stroke-width="0.8"/>
<rect x="721.2" y="62.9" width="5.8" height="5.8" fill="#cf0b30" stroke="#4a0812" stroke-width="0.8"/>
<line x1="628.6" y1="184.6" x2="634.8" y2="184.6" stroke="#a0d286" stroke-width="1.3" />
<line x1="628.6" y1="181.8" x2="628.6" y2="187.4" stroke="#a0d286" stroke-width="1.3" />
<line x1="647.8" y1="174.9" x2="654.8" y2="174.9" stroke="#a0d286" stroke-width="1.3" />
<line x1="647.8" y1="172.1" x2="647.8" y2="177.7" stroke="#a0d286" stroke-width="1.3" />
<line x1="660.6" y1="164.6" x2="668.2" y2="164.6" stroke="#a0d286" stroke-width="1.3" />
<line x1="660.6" y1="161.8" x2="660.6" y2="167.4" stroke="#a0d286" stroke-width="1.3" />
<line x1="667.8" y1="153.7" x2="675.5" y2="153.7" stroke="#a0d286" stroke-width="1.3" />
<line x1="667.8" y1="150.9" x2="667.8" y2="156.5" stroke="#a0d286" stroke-width="1.3" />
<line x1="673" y1="142.3" x2="681.2" y2="142.3" stroke="#a0d286" stroke-width="1.3" />
<line x1="673" y1="139.5" x2="673" y2="145.1" stroke="#a0d286" stroke-width="1.3" />
<line x1="681.2" y1="142.3" x2="681.2" y2="147.3" stroke="#a0d286" stroke-width="1.1" />
<line x1="678.7" y1="147.3" x2="683.7" y2="147.3" stroke="#a0d286" stroke-width="1.1" />
<line x1="677.1" y1="131.5" x2="685.8" y2="131.5" stroke="#a0d286" stroke-width="1.3" />
<line x1="677.1" y1="128.7" x2="677.1" y2="134.3" stroke="#a0d286" stroke-width="1.3" />
<line x1="685.8" y1="131.5" x2="685.8" y2="137.5" stroke="#a0d286" stroke-width="1.1" />
<line x1="683.3" y1="137.5" x2="688.3" y2="137.5" stroke="#a0d286" stroke-width="1.1" />
<line x1="680.2" y1="121.2" x2="688.5" y2="121.2" stroke="#a0d286" stroke-width="1.3" />
<line x1="680.2" y1="118.4" x2="680.2" y2="124" stroke="#a0d286" stroke-width="1.3" />
<line x1="688.5" y1="121.2" x2="688.5" y2="127.7" stroke="#a0d286" stroke-width="1.1" />
<line x1="686" y1="127.7" x2="691" y2="127.7" stroke="#a0d286" stroke-width="1.1" />
<line x1="682.8" y1="110.3" x2="691.6" y2="110.3" stroke="#a0d286" stroke-width="1.3" />
<line x1="682.8" y1="107.5" x2="682.8" y2="113.1" stroke="#a0d286" stroke-width="1.3" />
<line x1="691.6" y1="110.3" x2="691.6" y2="116.8" stroke="#a0d286" stroke-width="1.1" />
<line x1="689.1" y1="116.8" x2="694.1" y2="116.8" stroke="#a0d286" stroke-width="1.1" />
<line x1="684.9" y1="98.8" x2="693.3" y2="98.8" stroke="#a0d286" stroke-width="1.3" />
<line x1="684.9" y1="96" x2="684.9" y2="101.6" stroke="#a0d286" stroke-width="1.3" />
<line x1="693.3" y1="98.8" x2="693.3" y2="105.8" stroke="#a0d286" stroke-width="1.1" />
<line x1="690.8" y1="105.8" x2="695.8" y2="105.8" stroke="#a0d286" stroke-width="1.1" />
<line x1="686.5" y1="87.4" x2="695.8" y2="87.4" stroke="#a0d286" stroke-width="1.3" />
<line x1="686.5" y1="84.6" x2="686.5" y2="90.2" stroke="#a0d286" stroke-width="1.3" />
<line x1="695.8" y1="87.4" x2="695.8" y2="94.4" stroke="#a0d286" stroke-width="1.1" />
<line x1="693.3" y1="94.4" x2="698.3" y2="94.4" stroke="#a0d286" stroke-width="1.1" />
<line x1="687.6" y1="76.7" x2="697.3" y2="76.7" stroke="#a0d286" stroke-width="1.3" />
<line x1="687.6" y1="73.9" x2="687.6" y2="79.5" stroke="#a0d286" stroke-width="1.3" />
<line x1="697.3" y1="76.7" x2="697.3" y2="83.7" stroke="#a0d286" stroke-width="1.1" />
<line x1="694.8" y1="83.7" x2="699.8" y2="83.7" stroke="#a0d286" stroke-width="1.1" />
<line x1="689.6" y1="66.3" x2="698.9" y2="66.3" stroke="#a0d286" stroke-width="1.3" />
<line x1="689.6" y1="63.5" x2="689.6" y2="69.1" stroke="#a0d286" stroke-width="1.3" />
<line x1="698.9" y1="66.3" x2="698.9" y2="73.3" stroke="#a0d286" stroke-width="1.1" />
<line x1="696.4" y1="73.3" x2="701.4" y2="73.3" stroke="#a0d286" stroke-width="1.1" />
<polygon points="584.85,191.85 591.75,191.85 588.3,197.95" fill="#4fb41a" stroke="#1c3008" stroke-width="0.75" stroke-linejoin="miter"/>
<polygon points="631.35,182.95 638.25,182.95 634.8,189.05" fill="#4fb41a" stroke="#1c3008" stroke-width="0.75" stroke-linejoin="miter"/>
<polygon points="651.35,173.25 658.25,173.25 654.8,179.35" fill="#4fb41a" stroke="#1c3008" stroke-width="0.75" stroke-linejoin="miter"/>
<polygon points="664.75,162.95 671.65,162.95 668.2,169.05" fill="#4fb41a" stroke="#1c3008" stroke-width="0.75" stroke-linejoin="miter"/>
<polygon points="672.05,152.05 678.95,152.05 675.5,158.15" fill="#4fb41a" stroke="#1c3008" stroke-width="0.75" stroke-linejoin="miter"/>
<polygon points="677.75,140.65 684.65,140.65 681.2,146.75" fill="#4fb41a" stroke="#1c3008" stroke-width="0.75" stroke-linejoin="miter"/>
<polygon points="682.35,129.85 689.25,129.85 685.8,135.95" fill="#4fb41a" stroke="#1c3008" stroke-width="0.75" stroke-linejoin="miter"/>
<polygon points="685.05,119.55 691.95,119.55 688.5,125.65" fill="#4fb41a" stroke="#1c3008" stroke-width="0.75" stroke-linejoin="miter"/>
<polygon points="688.15,108.65 695.05,108.65 691.6,114.75" fill="#4fb41a" stroke="#1c3008" stroke-width="0.75" stroke-linejoin="miter"/>
<polygon points="689.85,97.15 696.75,97.15 693.3,103.25" fill="#4fb41a" stroke="#1c3008" stroke-width="0.75" stroke-linejoin="miter"/>
<polygon points="692.35,85.75 699.25,85.75 695.8,91.85" fill="#4fb41a" stroke="#1c3008" stroke-width="0.75" stroke-linejoin="miter"/>
<polygon points="693.85,75.05 700.75,75.05 697.3,81.15" fill="#4fb41a" stroke="#1c3008" stroke-width="0.75" stroke-linejoin="miter"/>
<polygon points="695.45,64.65 702.35,64.65 698.9,70.75" fill="#4fb41a" stroke="#1c3008" stroke-width="0.75" stroke-linejoin="miter"/>
<path d="M698.5 27.8 V23.4 H760.3 V27.8" fill="none" stroke="#000" stroke-width="1.4"/>
<text x="729.3" y="25.4" font-size="13" text-anchor="middle" font-weight="bold" >**</text>
<path d="M857 10.4 V195 H1054.2" fill="none" stroke="#000" stroke-width="2.1" stroke-linecap="square"/>
<line x1="857" y1="10.4" x2="859.6" y2="10.4" stroke="#000" stroke-width="2" />
<line x1="857" y1="41.17" x2="859.6" y2="41.17" stroke="#000" stroke-width="2" />
<line x1="857" y1="71.93" x2="859.6" y2="71.93" stroke="#000" stroke-width="2" />
<line x1="857" y1="102.7" x2="859.6" y2="102.7" stroke="#000" stroke-width="2" />
<line x1="857" y1="133.47" x2="859.6" y2="133.47" stroke="#000" stroke-width="2" />
<line x1="857" y1="164.23" x2="859.6" y2="164.23" stroke="#000" stroke-width="2" />
<line x1="906.3" y1="195" x2="906.3" y2="192.4" stroke="#000" stroke-width="2" />
<line x1="955.6" y1="195" x2="955.6" y2="192.4" stroke="#000" stroke-width="2" />
<line x1="1004.9" y1="195" x2="1004.9" y2="192.4" stroke="#000" stroke-width="2" />
<line x1="1054.2" y1="195" x2="1054.2" y2="192.4" stroke="#000" stroke-width="2" />
<text x="851" y="15.9" font-size="15.5" text-anchor="end" textLength="23.79" lengthAdjust="spacingAndGlyphs" font-weight="bold" >120</text>
<text x="851" y="46.67" font-size="15.5" text-anchor="end" textLength="23.79" lengthAdjust="spacingAndGlyphs" font-weight="bold" >100</text>
<text x="851" y="77.44" font-size="15.5" text-anchor="end" textLength="15.86" lengthAdjust="spacingAndGlyphs" font-weight="bold" >80</text>
<text x="851" y="108.2" font-size="15.5" text-anchor="end" textLength="15.86" lengthAdjust="spacingAndGlyphs" font-weight="bold" >60</text>
<text x="851" y="138.97" font-size="15.5" text-anchor="end" textLength="15.86" lengthAdjust="spacingAndGlyphs" font-weight="bold" >40</text>
<text x="851" y="169.74" font-size="15.5" text-anchor="end" textLength="15.86" lengthAdjust="spacingAndGlyphs" font-weight="bold" >20</text>
<text x="851" y="200.5" font-size="15.5" text-anchor="end" textLength="7.93" lengthAdjust="spacingAndGlyphs" font-weight="bold" >0</text>
<text x="857" y="214" font-size="15.5" text-anchor="middle" textLength="7.93" lengthAdjust="spacingAndGlyphs" font-weight="bold" >1</text>
<text x="906.3" y="214" font-size="15.5" text-anchor="middle" textLength="27.75" lengthAdjust="spacingAndGlyphs" font-weight="bold" >1.05</text>
<text x="955.6" y="214" font-size="15.5" text-anchor="middle" textLength="19.82" lengthAdjust="spacingAndGlyphs" font-weight="bold" >1.1</text>
<text x="1004.9" y="214" font-size="15.5" text-anchor="middle" textLength="27.75" lengthAdjust="spacingAndGlyphs" font-weight="bold" >1.15</text>
<text x="1054.2" y="214" font-size="15.5" text-anchor="middle" textLength="19.82" lengthAdjust="spacingAndGlyphs" font-weight="bold" >1.2</text>
<text x="896.34" y="235.5" font-size="18" text-anchor="start" textLength="113.03" lengthAdjust="spacingAndGlyphs" font-weight="bold" >Circ. Stretch</text>
<text x="820" y="182.77" font-size="17.5" text-anchor="start" transform="rotate(-90 820 182.77)" textLength="160" lengthAdjust="spacingAndGlyphs" font-weight="bold" >Axial Stress (kPa)</text>
<text x="805.42" y="16" font-size="19.5" text-anchor="start" font-weight="bold" >d</text>
<line x1="922.3" y1="166.5" x2="932.6" y2="166.5" stroke="#46a2dc" stroke-width="1.1" />
<line x1="922.3" y1="163.7" x2="922.3" y2="169.3" stroke="#46a2dc" stroke-width="1.1" />
<line x1="962" y1="159.8" x2="971.4" y2="159.8" stroke="#46a2dc" stroke-width="1.1" />
<line x1="962" y1="157" x2="962" y2="162.6" stroke="#46a2dc" stroke-width="1.1" />
<line x1="976.2" y1="153" x2="991.7" y2="153" stroke="#46a2dc" stroke-width="1.1" />
<line x1="976.2" y1="150.2" x2="976.2" y2="155.8" stroke="#46a2dc" stroke-width="1.1" />
<line x1="987.5" y1="146.2" x2="1003.6" y2="146.2" stroke="#46a2dc" stroke-width="1.1" />
<line x1="987.5" y1="143.4" x2="987.5" y2="149" stroke="#46a2dc" stroke-width="1.1" />
<line x1="992.7" y1="140" x2="1009.2" y2="140" stroke="#46a2dc" stroke-width="1.1" />
<line x1="992.7" y1="137.2" x2="992.7" y2="142.8" stroke="#46a2dc" stroke-width="1.1" />
<line x1="998.5" y1="134" x2="1014.8" y2="134" stroke="#46a2dc" stroke-width="1.1" />
<line x1="998.5" y1="131.2" x2="998.5" y2="136.8" stroke="#46a2dc" stroke-width="1.1" />
<line x1="1002.4" y1="128.2" x2="1018.9" y2="128.2" stroke="#46a2dc" stroke-width="1.1" />
<line x1="1002.4" y1="125.4" x2="1002.4" y2="131" stroke="#46a2dc" stroke-width="1.1" />
<line x1="1004.5" y1="122.4" x2="1021" y2="122.4" stroke="#46a2dc" stroke-width="1.1" />
<line x1="1004.5" y1="119.6" x2="1004.5" y2="125.2" stroke="#46a2dc" stroke-width="1.1" />
<line x1="1006.5" y1="116.9" x2="1023.3" y2="116.9" stroke="#46a2dc" stroke-width="1.1" />
<line x1="1006.5" y1="114.1" x2="1006.5" y2="119.7" stroke="#46a2dc" stroke-width="1.1" />
<line x1="1009.6" y1="111.3" x2="1025.7" y2="111.3" stroke="#46a2dc" stroke-width="1.1" />
<line x1="1009.6" y1="108.5" x2="1009.6" y2="114.1" stroke="#46a2dc" stroke-width="1.1" />
<line x1="1010.7" y1="106.1" x2="1026.8" y2="106.1" stroke="#46a2dc" stroke-width="1.1" />
<line x1="1010.7" y1="103.3" x2="1010.7" y2="108.9" stroke="#46a2dc" stroke-width="1.1" />
<line x1="1011.3" y1="101.4" x2="1027.8" y2="101.4" stroke="#46a2dc" stroke-width="1.1" />
<line x1="1011.3" y1="98.6" x2="1011.3" y2="104.2" stroke="#46a2dc" stroke-width="1.1" />
<circle cx="856.8" cy="170.2" r="3.1" fill="#0a72cf" stroke="#0a2548" stroke-width="0.8"/>
<circle cx="932.6" cy="166.5" r="3.1" fill="#0a72cf" stroke="#0a2548" stroke-width="0.8"/>
<circle cx="971.4" cy="159.8" r="3.1" fill="#0a72cf" stroke="#0a2548" stroke-width="0.8"/>
<circle cx="991.7" cy="153" r="3.1" fill="#0a72cf" stroke="#0a2548" stroke-width="0.8"/>
<circle cx="1003.6" cy="146.2" r="3.1" fill="#0a72cf" stroke="#0a2548" stroke-width="0.8"/>
<circle cx="1009.2" cy="140" r="3.1" fill="#0a72cf" stroke="#0a2548" stroke-width="0.8"/>
<circle cx="1014.8" cy="134" r="3.1" fill="#0a72cf" stroke="#0a2548" stroke-width="0.8"/>
<circle cx="1018.9" cy="128.2" r="3.1" fill="#0a72cf" stroke="#0a2548" stroke-width="0.8"/>
<circle cx="1021" cy="122.4" r="3.1" fill="#0a72cf" stroke="#0a2548" stroke-width="0.8"/>
<circle cx="1023.3" cy="116.9" r="3.1" fill="#0a72cf" stroke="#0a2548" stroke-width="0.8"/>
<circle cx="1025.7" cy="111.3" r="3.1" fill="#0a72cf" stroke="#0a2548" stroke-width="0.8"/>
<circle cx="1026.8" cy="106.1" r="3.1" fill="#0a72cf" stroke="#0a2548" stroke-width="0.8"/>
<circle cx="1027.8" cy="101.4" r="3.1" fill="#0a72cf" stroke="#0a2548" stroke-width="0.8"/>
<line x1="908.5" y1="169.8" x2="918.6" y2="169.8" stroke="#e67890" stroke-width="1.1" />
<line x1="908.5" y1="167" x2="908.5" y2="172.6" stroke="#e67890" stroke-width="1.1" />
<line x1="932.2" y1="164" x2="942.5" y2="164" stroke="#e67890" stroke-width="1.1" />
<line x1="932.2" y1="161.2" x2="932.2" y2="166.8" stroke="#e67890" stroke-width="1.1" />
<line x1="948.9" y1="158.5" x2="959.8" y2="158.5" stroke="#e67890" stroke-width="1.1" />
<line x1="948.9" y1="155.7" x2="948.9" y2="161.3" stroke="#e67890" stroke-width="1.1" />
<line x1="958.6" y1="153.5" x2="969.7" y2="153.5" stroke="#e67890" stroke-width="1.1" />
<line x1="958.6" y1="150.7" x2="958.6" y2="156.3" stroke="#e67890" stroke-width="1.1" />
<line x1="964.2" y1="148.6" x2="975.9" y2="148.6" stroke="#e67890" stroke-width="1.1" />
<line x1="964.2" y1="145.8" x2="964.2" y2="151.4" stroke="#e67890" stroke-width="1.1" />
<line x1="969.7" y1="143.6" x2="980.9" y2="143.6" stroke="#e67890" stroke-width="1.1" />
<line x1="969.7" y1="140.8" x2="969.7" y2="146.4" stroke="#e67890" stroke-width="1.1" />
<line x1="972.8" y1="139.3" x2="984" y2="139.3" stroke="#e67890" stroke-width="1.1" />
<line x1="972.8" y1="136.5" x2="972.8" y2="142.1" stroke="#e67890" stroke-width="1.1" />
<line x1="974" y1="134.9" x2="987.5" y2="134.9" stroke="#e67890" stroke-width="1.1" />
<line x1="974" y1="132.1" x2="974" y2="137.7" stroke="#e67890" stroke-width="1.1" />
<line x1="975.9" y1="130.6" x2="989.6" y2="130.6" stroke="#e67890" stroke-width="1.1" />
<line x1="975.9" y1="127.8" x2="975.9" y2="133.4" stroke="#e67890" stroke-width="1.1" />
<line x1="977.8" y1="126.9" x2="990.2" y2="126.9" stroke="#e67890" stroke-width="1.1" />
<line x1="977.8" y1="124.1" x2="977.8" y2="129.7" stroke="#e67890" stroke-width="1.1" />
<line x1="979.4" y1="123.2" x2="990.8" y2="123.2" stroke="#e67890" stroke-width="1.1" />
<line x1="979.4" y1="120.4" x2="979.4" y2="126" stroke="#e67890" stroke-width="1.1" />
<line x1="980.9" y1="118.8" x2="992.7" y2="118.8" stroke="#e67890" stroke-width="1.1" />
<line x1="980.9" y1="116" x2="980.9" y2="121.6" stroke="#e67890" stroke-width="1.1" />
<rect x="853.9" y="171.1" width="5.8" height="5.8" fill="#cf0b30" stroke="#4a0812" stroke-width="0.8"/>
<rect x="915.7" y="166.9" width="5.8" height="5.8" fill="#cf0b30" stroke="#4a0812" stroke-width="0.8"/>
<rect x="939.6" y="161.1" width="5.8" height="5.8" fill="#cf0b30" stroke="#4a0812" stroke-width="0.8"/>
<rect x="956.9" y="155.6" width="5.8" height="5.8" fill="#cf0b30" stroke="#4a0812" stroke-width="0.8"/>
<rect x="966.8" y="150.6" width="5.8" height="5.8" fill="#cf0b30" stroke="#4a0812" stroke-width="0.8"/>
<rect x="973" y="145.7" width="5.8" height="5.8" fill="#cf0b30" stroke="#4a0812" stroke-width="0.8"/>
<rect x="978" y="140.7" width="5.8" height="5.8" fill="#cf0b30" stroke="#4a0812" stroke-width="0.8"/>
<rect x="981.1" y="136.4" width="5.8" height="5.8" fill="#cf0b30" stroke="#4a0812" stroke-width="0.8"/>
<rect x="984.6" y="132" width="5.8" height="5.8" fill="#cf0b30" stroke="#4a0812" stroke-width="0.8"/>
<rect x="986.7" y="127.7" width="5.8" height="5.8" fill="#cf0b30" stroke="#4a0812" stroke-width="0.8"/>
<rect x="987.3" y="124" width="5.8" height="5.8" fill="#cf0b30" stroke="#4a0812" stroke-width="0.8"/>
<rect x="987.9" y="120.3" width="5.8" height="5.8" fill="#cf0b30" stroke="#4a0812" stroke-width="0.8"/>
<rect x="989.8" y="115.9" width="5.8" height="5.8" fill="#cf0b30" stroke="#4a0812" stroke-width="0.8"/>
<line x1="896.5" y1="162.9" x2="903.3" y2="162.9" stroke="#a0d286" stroke-width="1.3" />
<line x1="896.5" y1="160.1" x2="896.5" y2="165.7" stroke="#a0d286" stroke-width="1.3" />
<line x1="915.7" y1="156.8" x2="922.7" y2="156.8" stroke="#a0d286" stroke-width="1.3" />
<line x1="915.7" y1="154" x2="915.7" y2="159.6" stroke="#a0d286" stroke-width="1.3" />
<line x1="922.7" y1="156.8" x2="922.7" y2="163.4" stroke="#a0d286" stroke-width="1.1" />
<line x1="920.45" y1="163.4" x2="924.95" y2="163.4" stroke="#a0d286" stroke-width="1.1" />
<line x1="928.5" y1="151.6" x2="936.4" y2="151.6" stroke="#a0d286" stroke-width="1.3" />
<line x1="928.5" y1="148.8" x2="928.5" y2="154.4" stroke="#a0d286" stroke-width="1.3" />
<line x1="936.4" y1="151.6" x2="936.4" y2="158.2" stroke="#a0d286" stroke-width="1.1" />
<line x1="934.15" y1="158.2" x2="938.65" y2="158.2" stroke="#a0d286" stroke-width="1.1" />
<line x1="935.5" y1="145.9" x2="944.3" y2="145.9" stroke="#a0d286" stroke-width="1.3" />
<line x1="935.5" y1="143.1" x2="935.5" y2="148.7" stroke="#a0d286" stroke-width="1.3" />
<line x1="944.3" y1="145.9" x2="944.3" y2="152.5" stroke="#a0d286" stroke-width="1.1" />
<line x1="942.05" y1="152.5" x2="946.55" y2="152.5" stroke="#a0d286" stroke-width="1.1" />
<line x1="940.9" y1="140.9" x2="949.9" y2="140.9" stroke="#a0d286" stroke-width="1.3" />
<line x1="940.9" y1="138.1" x2="940.9" y2="143.7" stroke="#a0d286" stroke-width="1.3" />
<line x1="949.9" y1="140.9" x2="949.9" y2="147.5" stroke="#a0d286" stroke-width="1.1" />
<line x1="947.65" y1="147.5" x2="952.15" y2="147.5" stroke="#a0d286" stroke-width="1.1" />
<line x1="944.6" y1="136.5" x2="953.6" y2="136.5" stroke="#a0d286" stroke-width="1.3" />
<line x1="944.6" y1="133.7" x2="944.6" y2="139.3" stroke="#a0d286" stroke-width="1.3" />
<line x1="953.6" y1="136.5" x2="953.6" y2="143.1" stroke="#a0d286" stroke-width="1.1" />
<line x1="951.35" y1="143.1" x2="955.85" y2="143.1" stroke="#a0d286" stroke-width="1.1" />
<line x1="947.7" y1="132" x2="956.7" y2="132" stroke="#a0d286" stroke-width="1.3" />
<line x1="947.7" y1="129.2" x2="947.7" y2="134.8" stroke="#a0d286" stroke-width="1.3" />
<line x1="956.7" y1="132" x2="956.7" y2="138.6" stroke="#a0d286" stroke-width="1.1" />
<line x1="954.45" y1="138.6" x2="958.95" y2="138.6" stroke="#a0d286" stroke-width="1.1" />
<line x1="950.2" y1="127.6" x2="959.2" y2="127.6" stroke="#a0d286" stroke-width="1.3" />
<line x1="950.2" y1="124.8" x2="950.2" y2="130.4" stroke="#a0d286" stroke-width="1.3" />
<line x1="959.2" y1="127.6" x2="959.2" y2="134.2" stroke="#a0d286" stroke-width="1.1" />
<line x1="956.95" y1="134.2" x2="961.45" y2="134.2" stroke="#a0d286" stroke-width="1.1" />
<line x1="952.7" y1="123.3" x2="961.7" y2="123.3" stroke="#a0d286" stroke-width="1.3" />
<line x1="952.7" y1="120.5" x2="952.7" y2="126.1" stroke="#a0d286" stroke-width="1.3" />
<line x1="961.7" y1="123.3" x2="961.7" y2="129.9" stroke="#a0d286" stroke-width="1.1" />
<line x1="959.45" y1="129.9" x2="963.95" y2="129.9" stroke="#a0d286" stroke-width="1.1" />
<line x1="954.5" y1="119.6" x2="963.5" y2="119.6" stroke="#a0d286" stroke-width="1.3" />
<line x1="954.5" y1="116.8" x2="954.5" y2="122.4" stroke="#a0d286" stroke-width="1.3" />
<line x1="963.5" y1="119.6" x2="963.5" y2="126.2" stroke="#a0d286" stroke-width="1.1" />
<line x1="961.25" y1="126.2" x2="965.75" y2="126.2" stroke="#a0d286" stroke-width="1.1" />
<line x1="956.4" y1="115.9" x2="965.4" y2="115.9" stroke="#a0d286" stroke-width="1.3" />
<line x1="956.4" y1="113.1" x2="956.4" y2="118.7" stroke="#a0d286" stroke-width="1.3" />
<line x1="965.4" y1="115.9" x2="965.4" y2="122.5" stroke="#a0d286" stroke-width="1.1" />
<line x1="963.15" y1="122.5" x2="967.65" y2="122.5" stroke="#a0d286" stroke-width="1.1" />
<line x1="957.8" y1="112.2" x2="966.8" y2="112.2" stroke="#a0d286" stroke-width="1.3" />
<line x1="957.8" y1="109.4" x2="957.8" y2="115" stroke="#a0d286" stroke-width="1.3" />
<line x1="966.8" y1="112.2" x2="966.8" y2="118.8" stroke="#a0d286" stroke-width="1.1" />
<line x1="964.55" y1="118.8" x2="969.05" y2="118.8" stroke="#a0d286" stroke-width="1.1" />
<polygon points="853.35,165.05 860.25,165.05 856.8,171.15" fill="#4fb41a" stroke="#1c3008" stroke-width="0.75" stroke-linejoin="miter"/>
<polygon points="899.85,161.25 906.75,161.25 903.3,167.35" fill="#4fb41a" stroke="#1c3008" stroke-width="0.75" stroke-linejoin="miter"/>
<polygon points="919.25,155.15 926.15,155.15 922.7,161.25" fill="#4fb41a" stroke="#1c3008" stroke-width="0.75" stroke-linejoin="miter"/>
<polygon points="932.95,149.95 939.85,149.95 936.4,156.05" fill="#4fb41a" stroke="#1c3008" stroke-width="0.75" stroke-linejoin="miter"/>
<polygon points="940.85,144.25 947.75,144.25 944.3,150.35" fill="#4fb41a" stroke="#1c3008" stroke-width="0.75" stroke-linejoin="miter"/>
<polygon points="946.45,139.25 953.35,139.25 949.9,145.35" fill="#4fb41a" stroke="#1c3008" stroke-width="0.75" stroke-linejoin="miter"/>
<polygon points="950.15,134.85 957.05,134.85 953.6,140.95" fill="#4fb41a" stroke="#1c3008" stroke-width="0.75" stroke-linejoin="miter"/>
<polygon points="953.25,130.35 960.15,130.35 956.7,136.45" fill="#4fb41a" stroke="#1c3008" stroke-width="0.75" stroke-linejoin="miter"/>
<polygon points="955.75,125.95 962.65,125.95 959.2,132.05" fill="#4fb41a" stroke="#1c3008" stroke-width="0.75" stroke-linejoin="miter"/>
<polygon points="958.25,121.65 965.15,121.65 961.7,127.75" fill="#4fb41a" stroke="#1c3008" stroke-width="0.75" stroke-linejoin="miter"/>
<polygon points="960.05,117.95 966.95,117.95 963.5,124.05" fill="#4fb41a" stroke="#1c3008" stroke-width="0.75" stroke-linejoin="miter"/>
<polygon points="961.95,114.25 968.85,114.25 965.4,120.35" fill="#4fb41a" stroke="#1c3008" stroke-width="0.75" stroke-linejoin="miter"/>
<polygon points="963.35,110.55 970.25,110.55 966.8,116.65" fill="#4fb41a" stroke="#1c3008" stroke-width="0.75" stroke-linejoin="miter"/>
<path d="M56.9 253.75 V439 H246.3" fill="none" stroke="#000" stroke-width="2.1"/>
<line x1="56.9" y1="253.75" x2="59.5" y2="253.75" stroke="#000" stroke-width="2" />
<line x1="56.9" y1="300.06" x2="59.5" y2="300.06" stroke="#000" stroke-width="2" />
<line x1="56.9" y1="346.38" x2="59.5" y2="346.38" stroke="#000" stroke-width="2" />
<line x1="56.9" y1="392.69" x2="59.5" y2="392.69" stroke="#000" stroke-width="2" />
<line x1="113" y1="439" x2="113" y2="436.5" stroke="#000" stroke-width="1.6" />
<line x1="183.4" y1="439" x2="183.4" y2="436.5" stroke="#000" stroke-width="1.6" />
<text x="51" y="259.25" font-size="15.5" text-anchor="end" textLength="23.79" lengthAdjust="spacingAndGlyphs" font-weight="bold" >120</text>
<text x="51" y="305.56" font-size="15.5" text-anchor="end" textLength="15.86" lengthAdjust="spacingAndGlyphs" font-weight="bold" >90</text>
<text x="51" y="351.88" font-size="15.5" text-anchor="end" textLength="15.86" lengthAdjust="spacingAndGlyphs" font-weight="bold" >60</text>
<text x="51" y="398.19" font-size="15.5" text-anchor="end" textLength="15.86" lengthAdjust="spacingAndGlyphs" font-weight="bold" >30</text>
<text x="51" y="444.5" font-size="15.5" text-anchor="end" textLength="7.93" lengthAdjust="spacingAndGlyphs" font-weight="bold" >0</text>
<text x="112.78" y="463.6" font-size="17.5" text-anchor="start" textLength="39.84" lengthAdjust="spacingAndGlyphs" font-weight="bold" >Circ.</text>
<text x="186.35" y="463.6" font-size="17.5" text-anchor="start" textLength="42.69" lengthAdjust="spacingAndGlyphs" font-weight="bold" >Axial</text>
<text x="20.2" y="413.79" font-size="17" text-anchor="start" transform="rotate(-90 20.2 413.79)" textLength="134.32" lengthAdjust="spacingAndGlyphs" font-weight="bold" >Max Stress (kPa)</text>
<text x="9.42" y="256.6" font-size="19.5" text-anchor="start" font-weight="bold" >e</text>
<line x1="100.45" y1="280.6" x2="100.45" y2="269.5" stroke="#555" stroke-width="1.1" />
<line x1="98.25" y1="269.5" x2="102.65" y2="269.5" stroke="#555" stroke-width="1.1" />
<rect x="95.3" y="280.6" width="10.3" height="158.4" fill="#0670c4" stroke="#103050" stroke-width="0.7"/>
<line x1="112.85" y1="311.2" x2="112.85" y2="306.2" stroke="#555" stroke-width="1.1" />
<line x1="110.65" y1="306.2" x2="115.05" y2="306.2" stroke="#555" stroke-width="1.1" />
<rect x="108.1" y="311.2" width="9.5" height="127.8" fill="#c80c2c" stroke="#500a14" stroke-width="0.7"/>
<line x1="125.25" y1="312.2" x2="125.25" y2="305.4" stroke="#555" stroke-width="1.1" />
<line x1="123.05" y1="305.4" x2="127.45" y2="305.4" stroke="#555" stroke-width="1.1" />
<rect x="120.3" y="312.2" width="9.9" height="126.8" fill="#52b014" stroke="#2a4a10" stroke-width="0.7"/>
<line x1="170.7" y1="345" x2="170.7" y2="339.3" stroke="#555" stroke-width="1.1" />
<line x1="168.5" y1="339.3" x2="172.9" y2="339.3" stroke="#555" stroke-width="1.1" />
<rect x="165.7" y="345" width="10" height="94" fill="#0670c4" stroke="#103050" stroke-width="0.7"/>
<line x1="183.3" y1="363.3" x2="183.3" y2="360" stroke="#555" stroke-width="1.1" />
<line x1="181.1" y1="360" x2="185.5" y2="360" stroke="#555" stroke-width="1.1" />
<rect x="178.2" y="363.3" width="10.2" height="75.7" fill="#c80c2c" stroke="#500a14" stroke-width="0.7"/>
<line x1="195.9" y1="356.3" x2="195.9" y2="350" stroke="#555" stroke-width="1.1" />
<line x1="193.7" y1="350" x2="198.1" y2="350" stroke="#555" stroke-width="1.1" />
<rect x="190.8" y="356.3" width="10.2" height="82.7" fill="#52b014" stroke="#2a4a10" stroke-width="0.7"/>
<line x1="95.1" y1="254.5" x2="117.7" y2="254.5" stroke="#000" stroke-width="1.3" />
<text x="105.8" y="254.9" font-size="13" text-anchor="middle" font-weight="bold" >*</text>
<line x1="95.1" y1="265.1" x2="130.8" y2="265.1" stroke="#000" stroke-width="1.3" />
<text x="112.8" y="265.6" font-size="13" text-anchor="middle" font-weight="bold" >*</text>
<line x1="165.75" y1="330" x2="188" y2="330" stroke="#000" stroke-width="1.3" />
<text x="177.5" y="330.9" font-size="13" text-anchor="middle" font-weight="bold" >*</text>
<path d="M308.3 253.8 V438.5 H510.8" fill="none" stroke="#000" stroke-width="2.1" stroke-linecap="square"/>
<line x1="308.3" y1="253.8" x2="310.9" y2="253.8" stroke="#000" stroke-width="2" />
<line x1="308.3" y1="299.98" x2="310.9" y2="299.98" stroke="#000" stroke-width="2" />
<line x1="308.3" y1="346.15" x2="310.9" y2="346.15" stroke="#000" stroke-width="2" />
<line x1="308.3" y1="392.32" x2="310.9" y2="392.32" stroke="#000" stroke-width="2" />
<line x1="358.93" y1="438.5" x2="358.93" y2="435.9" stroke="#000" stroke-width="2" />
<line x1="409.55" y1="438.5" x2="409.55" y2="435.9" stroke="#000" stroke-width="2" />
<line x1="460.18" y1="438.5" x2="460.18" y2="435.9" stroke="#000" stroke-width="2" />
<line x1="510.8" y1="438.5" x2="510.8" y2="435.9" stroke="#000" stroke-width="2" />
<text x="302" y="259.3" font-size="15.5" text-anchor="end" textLength="19.82" lengthAdjust="spacingAndGlyphs" font-weight="bold" >1.4</text>
<text x="302" y="305.48" font-size="15.5" text-anchor="end" textLength="19.82" lengthAdjust="spacingAndGlyphs" font-weight="bold" >1.3</text>
<text x="302" y="351.65" font-size="15.5" text-anchor="end" textLength="19.82" lengthAdjust="spacingAndGlyphs" font-weight="bold" >1.2</text>
<text x="302" y="397.83" font-size="15.5" text-anchor="end" textLength="19.82" lengthAdjust="spacingAndGlyphs" font-weight="bold" >1.1</text>
<text x="302" y="444" font-size="15.5" text-anchor="end" textLength="7.93" lengthAdjust="spacingAndGlyphs" font-weight="bold" >1</text>
<text x="308.3" y="457.1" font-size="15.5" text-anchor="middle" textLength="15.86" lengthAdjust="spacingAndGlyphs" font-weight="bold" >20</text>
<text x="358.93" y="457.1" font-size="15.5" text-anchor="middle" textLength="15.86" lengthAdjust="spacingAndGlyphs" font-weight="bold" >40</text>
<text x="409.55" y="457.1" font-size="15.5" text-anchor="middle" textLength="15.86" lengthAdjust="spacingAndGlyphs" font-weight="bold" >60</text>
<text x="460.18" y="457.1" font-size="15.5" text-anchor="middle" textLength="15.86" lengthAdjust="spacingAndGlyphs" font-weight="bold" >80</text>
<text x="510.8" y="457.1" font-size="15.5" text-anchor="middle" textLength="23.79" lengthAdjust="spacingAndGlyphs" font-weight="bold" >100</text>
<text x="388.52" y="478.7" font-size="18" text-anchor="start" textLength="35.93" lengthAdjust="spacingAndGlyphs" font-weight="bold" >Age</text>
<text x="275.2" y="412.4" font-size="17" text-anchor="start" transform="rotate(-90 275.2 412.4)" textLength="133.14" lengthAdjust="spacingAndGlyphs" font-weight="bold" >Max Circ Stretch</text>
<text x="265.91" y="257.2" font-size="19.5" text-anchor="start" font-weight="bold" >f</text>
<line x1="315.3" y1="321.6" x2="498.7" y2="401.4" stroke="#000" stroke-width="2" stroke-dasharray="6 6.12"/>
<circle cx="328.2" cy="273.2" r="3.1" fill="#0a72cf" stroke="#0a2548" stroke-width="0.8"/>
<circle cx="350.9" cy="336.5" r="3.1" fill="#0a72cf" stroke="#0a2548" stroke-width="0.8"/>
<circle cx="360.7" cy="329.6" r="3.1" fill="#0a72cf" stroke="#0a2548" stroke-width="0.8"/>
<circle cx="371" cy="339" r="3.1" fill="#0a72cf" stroke="#0a2548" stroke-width="0.8"/>
<circle cx="386.2" cy="334.5" r="3.1" fill="#0a72cf" stroke="#0a2548" stroke-width="0.8"/>
<circle cx="401.6" cy="334.5" r="3.1" fill="#0a72cf" stroke="#0a2548" stroke-width="0.8"/>
<circle cx="380.9" cy="348.3" r="3.1" fill="#0a72cf" stroke="#0a2548" stroke-width="0.8"/>
<circle cx="396.2" cy="348.7" r="3.1" fill="#0a72cf" stroke="#0a2548" stroke-width="0.8"/>
<circle cx="399" cy="360.7" r="3.1" fill="#0a72cf" stroke="#0a2548" stroke-width="0.8"/>
<circle cx="406.5" cy="359.6" r="3.1" fill="#0a72cf" stroke="#0a2548" stroke-width="0.8"/>
<circle cx="380.9" cy="367" r="3.1" fill="#0a72cf" stroke="#0a2548" stroke-width="0.8"/>
<circle cx="414" cy="372.6" r="3.1" fill="#0a72cf" stroke="#0a2548" stroke-width="0.8"/>
<circle cx="421.9" cy="362.1" r="3.1" fill="#0a72cf" stroke="#0a2548" stroke-width="0.8"/>
<circle cx="386.2" cy="382.4" r="3.1" fill="#0a72cf" stroke="#0a2548" stroke-width="0.8"/>
<circle cx="360.6" cy="388.5" r="3.1" fill="#0a72cf" stroke="#0a2548" stroke-width="0.8"/>
<circle cx="408.9" cy="389.8" r="3.1" fill="#0a72cf" stroke="#0a2548" stroke-width="0.8"/>
<circle cx="419.4" cy="404.4" r="3.1" fill="#0a72cf" stroke="#0a2548" stroke-width="0.8"/>
<circle cx="416.7" cy="412.5" r="3.1" fill="#0a72cf" stroke="#0a2548" stroke-width="0.8"/>
<rect x="447" y="338.5" width="5.8" height="5.8" fill="#cf0b30" stroke="#4a0812" stroke-width="0.8"/>
<rect x="431.8" y="346.4" width="5.8" height="5.8" fill="#cf0b30" stroke="#4a0812" stroke-width="0.8"/>
<rect x="434.2" y="351.3" width="5.8" height="5.8" fill="#cf0b30" stroke="#4a0812" stroke-width="0.8"/>
<rect x="421.3" y="353.3" width="5.8" height="5.8" fill="#cf0b30" stroke="#4a0812" stroke-width="0.8"/>
<rect x="434.2" y="355.3" width="5.8" height="5.8" fill="#cf0b30" stroke="#4a0812" stroke-width="0.8"/>
<rect x="431.8" y="358.2" width="5.8" height="5.8" fill="#cf0b30" stroke="#4a0812" stroke-width="0.8"/>
<rect x="431.8" y="361.2" width="5.8" height="5.8" fill="#cf0b30" stroke="#4a0812" stroke-width="0.8"/>
<rect x="448.9" y="361.8" width="5.8" height="5.8" fill="#cf0b30" stroke="#4a0812" stroke-width="0.8"/>
<rect x="442" y="363.8" width="5.8" height="5.8" fill="#cf0b30" stroke="#4a0812" stroke-width="0.8"/>
<rect x="442" y="369.1" width="5.8" height="5.8" fill="#cf0b30" stroke="#4a0812" stroke-width="0.8"/>
<rect x="447" y="372" width="5.8" height="5.8" fill="#cf0b30" stroke="#4a0812" stroke-width="0.8"/>
<rect x="437" y="384.4" width="5.8" height="5.8" fill="#cf0b30" stroke="#4a0812" stroke-width="0.8"/>
<rect x="447.1" y="386.1" width="5.8" height="5.8" fill="#cf0b30" stroke="#4a0812" stroke-width="0.8"/>
<rect x="444.4" y="394.7" width="5.8" height="5.8" fill="#cf0b30" stroke="#4a0812" stroke-width="0.8"/>
<rect x="454.4" y="401" width="5.8" height="5.8" fill="#cf0b30" stroke="#4a0812" stroke-width="0.8"/>
<rect x="449.5" y="410.8" width="5.8" height="5.8" fill="#cf0b30" stroke="#4a0812" stroke-width="0.8"/>
<rect x="454.4" y="410.1" width="5.8" height="5.8" fill="#cf0b30" stroke="#4a0812" stroke-width="0.8"/>
<polygon points="486.85,349.55 493.75,349.55 490.3,355.65" fill="#4fb41a" stroke="#1c3008" stroke-width="0.75" stroke-linejoin="miter"/>
<polygon points="456.65,364.25 463.55,364.25 460.1,370.35" fill="#4fb41a" stroke="#1c3008" stroke-width="0.75" stroke-linejoin="miter"/>
<polygon points="459.25,372.75 466.15,372.75 462.7,378.85" fill="#4fb41a" stroke="#1c3008" stroke-width="0.75" stroke-linejoin="miter"/>
<polygon points="466.45,370.05 473.35,370.05 469.9,376.15" fill="#4fb41a" stroke="#1c3008" stroke-width="0.75" stroke-linejoin="miter"/>
<polygon points="471.65,375.15 478.55,375.15 475.1,381.25" fill="#4fb41a" stroke="#1c3008" stroke-width="0.75" stroke-linejoin="miter"/>
<polygon points="466.45,375.85 473.35,375.85 469.9,381.95" fill="#4fb41a" stroke="#1c3008" stroke-width="0.75" stroke-linejoin="miter"/>
<polygon points="456.15,377.45 463.05,377.45 459.6,383.55" fill="#4fb41a" stroke="#1c3008" stroke-width="0.75" stroke-linejoin="miter"/>
<polygon points="459.25,381.35 466.15,381.35 462.7,387.45" fill="#4fb41a" stroke="#1c3008" stroke-width="0.75" stroke-linejoin="miter"/>
<polygon points="466.45,379.35 473.35,379.35 469.9,385.45" fill="#4fb41a" stroke="#1c3008" stroke-width="0.75" stroke-linejoin="miter"/>
<polygon points="456.75,400.95 463.65,400.95 460.2,407.05" fill="#4fb41a" stroke="#1c3008" stroke-width="0.75" stroke-linejoin="miter"/>
<polygon points="464.05,398.45 470.95,398.45 467.5,404.55" fill="#4fb41a" stroke="#1c3008" stroke-width="0.75" stroke-linejoin="miter"/>
<polygon points="468.95,404.85 475.85,404.85 472.4,410.95" fill="#4fb41a" stroke="#1c3008" stroke-width="0.75" stroke-linejoin="miter"/>
<polygon points="471.35,404.85 478.25,404.85 474.8,410.95" fill="#4fb41a" stroke="#1c3008" stroke-width="0.75" stroke-linejoin="miter"/>
<polygon points="479.25,398.75 486.15,398.75 482.7,404.85" fill="#4fb41a" stroke="#1c3008" stroke-width="0.75" stroke-linejoin="miter"/>
<polygon points="484.85,403.35 491.75,403.35 488.3,409.45" fill="#4fb41a" stroke="#1c3008" stroke-width="0.75" stroke-linejoin="miter"/>
<text x="440.92" y="325.4" font-size="15" text-anchor="start" font-weight="bold" >R</text>
<text x="451.99" y="320.5" font-size="9" text-anchor="start" font-weight="bold" >2</text>
<text x="462.2" y="325.4" font-size="15" text-anchor="start" font-weight="bold" >=</text>
<text x="475.69" y="325.4" font-size="15" text-anchor="start" textLength="29.58" lengthAdjust="spacingAndGlyphs" font-weight="bold" >0.38</text>
<path d="M579.8 253.5 V438 H782.8" fill="none" stroke="#000" stroke-width="2.1" stroke-linecap="square"/>
<line x1="579.8" y1="253.5" x2="582.4" y2="253.5" stroke="#000" stroke-width="2" />
<line x1="579.8" y1="299.62" x2="582.4" y2="299.62" stroke="#000" stroke-width="2" />
<line x1="579.8" y1="345.75" x2="582.4" y2="345.75" stroke="#000" stroke-width="2" />
<line x1="579.8" y1="391.88" x2="582.4" y2="391.88" stroke="#000" stroke-width="2" />
<line x1="630.55" y1="438" x2="630.55" y2="435.4" stroke="#000" stroke-width="2" />
<line x1="681.3" y1="438" x2="681.3" y2="435.4" stroke="#000" stroke-width="2" />
<line x1="732.05" y1="438" x2="732.05" y2="435.4" stroke="#000" stroke-width="2" />
<line x1="782.8" y1="438" x2="782.8" y2="435.4" stroke="#000" stroke-width="2" />
<text x="573.5" y="259" font-size="15.5" text-anchor="end" textLength="23.79" lengthAdjust="spacingAndGlyphs" font-weight="bold" >800</text>
<text x="573.5" y="305.13" font-size="15.5" text-anchor="end" textLength="23.79" lengthAdjust="spacingAndGlyphs" font-weight="bold" >600</text>
<text x="573.5" y="351.25" font-size="15.5" text-anchor="end" textLength="23.79" lengthAdjust="spacingAndGlyphs" font-weight="bold" >400</text>
<text x="573.5" y="397.38" font-size="15.5" text-anchor="end" textLength="23.79" lengthAdjust="spacingAndGlyphs" font-weight="bold" >200</text>
<text x="573.5" y="443.5" font-size="15.5" text-anchor="end" textLength="7.93" lengthAdjust="spacingAndGlyphs" font-weight="bold" >0</text>
<text x="579.8" y="457.1" font-size="15.5" text-anchor="middle" textLength="15.86" lengthAdjust="spacingAndGlyphs" font-weight="bold" >20</text>
<text x="630.55" y="457.1" font-size="15.5" text-anchor="middle" textLength="15.86" lengthAdjust="spacingAndGlyphs" font-weight="bold" >40</text>
<text x="681.3" y="457.1" font-size="15.5" text-anchor="middle" textLength="15.86" lengthAdjust="spacingAndGlyphs" font-weight="bold" >60</text>
<text x="732.05" y="457.1" font-size="15.5" text-anchor="middle" textLength="15.86" lengthAdjust="spacingAndGlyphs" font-weight="bold" >80</text>
<text x="782.8" y="457.1" font-size="15.5" text-anchor="middle" textLength="23.79" lengthAdjust="spacingAndGlyphs" font-weight="bold" >100</text>
<text x="660.02" y="478.7" font-size="18" text-anchor="start" textLength="35.93" lengthAdjust="spacingAndGlyphs" font-weight="bold" >Age</text>
<text x="543" y="427.91" font-size="17" text-anchor="start" transform="rotate(-90 543 427.91)" textLength="165.72" lengthAdjust="spacingAndGlyphs" font-weight="bold" >Initial Modulus (kPa)</text>
<text x="531.12" y="256.9" font-size="19.5" text-anchor="start" font-weight="bold" >g</text>
<line x1="586.8" y1="415.3" x2="772.1" y2="384.3" stroke="#000" stroke-width="2" stroke-dasharray="6 6.15"/>
<circle cx="599" cy="415.5" r="3.1" fill="#0a72cf" stroke="#0a2548" stroke-width="0.8"/>
<circle cx="622.3" cy="418.9" r="3.1" fill="#0a72cf" stroke="#0a2548" stroke-width="0.8"/>
<circle cx="632.3" cy="378" r="3.1" fill="#0a72cf" stroke="#0a2548" stroke-width="0.8"/>
<circle cx="632.5" cy="410.9" r="3.1" fill="#0a72cf" stroke="#0a2548" stroke-width="0.8"/>
<circle cx="642.6" cy="421.1" r="3.1" fill="#0a72cf" stroke="#0a2548" stroke-width="0.8"/>
<circle cx="652.8" cy="402.3" r="3.1" fill="#0a72cf" stroke="#0a2548" stroke-width="0.8"/>
<circle cx="658" cy="396.6" r="3.1" fill="#0a72cf" stroke="#0a2548" stroke-width="0.8"/>
<circle cx="652.8" cy="420" r="3.1" fill="#0a72cf" stroke="#0a2548" stroke-width="0.8"/>
<circle cx="658" cy="417.3" r="3.1" fill="#0a72cf" stroke="#0a2548" stroke-width="0.8"/>
<circle cx="668.2" cy="408.2" r="3.1" fill="#0a72cf" stroke="#0a2548" stroke-width="0.8"/>
<circle cx="670.8" cy="412.7" r="3.1" fill="#0a72cf" stroke="#0a2548" stroke-width="0.8"/>
<circle cx="672.9" cy="423.7" r="3.1" fill="#0a72cf" stroke="#0a2548" stroke-width="0.8"/>
<circle cx="678.3" cy="418.2" r="3.1" fill="#0a72cf" stroke="#0a2548" stroke-width="0.8"/>
<circle cx="686" cy="417.6" r="3.1" fill="#0a72cf" stroke="#0a2548" stroke-width="0.8"/>
<circle cx="693.2" cy="410.9" r="3.1" fill="#0a72cf" stroke="#0a2548" stroke-width="0.8"/>
<circle cx="680.2" cy="371.2" r="3.1" fill="#0a72cf" stroke="#0a2548" stroke-width="0.8"/>
<circle cx="690.9" cy="364" r="3.1" fill="#0a72cf" stroke="#0a2548" stroke-width="0.8"/>
<circle cx="688.2" cy="286.5" r="3.1" fill="#0a72cf" stroke="#0a2548" stroke-width="0.8"/>
<rect x="721.1" y="302.6" width="5.8" height="5.8" fill="#cf0b30" stroke="#4a0812" stroke-width="0.8"/>
<rect x="693.2" y="341.9" width="5.8" height="5.8" fill="#cf0b30" stroke="#4a0812" stroke-width="0.8"/>
<rect x="726" y="363.2" width="5.8" height="5.8" fill="#cf0b30" stroke="#4a0812" stroke-width="0.8"/>
<rect x="726" y="368.4" width="5.8" height="5.8" fill="#cf0b30" stroke="#4a0812" stroke-width="0.8"/>
<rect x="718.4" y="377.7" width="5.8" height="5.8" fill="#cf0b30" stroke="#4a0812" stroke-width="0.8"/>
<rect x="715.7" y="396.3" width="5.8" height="5.8" fill="#cf0b30" stroke="#4a0812" stroke-width="0.8"/>
<rect x="708.5" y="402.5" width="5.8" height="5.8" fill="#cf0b30" stroke="#4a0812" stroke-width="0.8"/>
<rect x="718.4" y="402.5" width="5.8" height="5.8" fill="#cf0b30" stroke="#4a0812" stroke-width="0.8"/>
<rect x="713.2" y="406.6" width="5.8" height="5.8" fill="#cf0b30" stroke="#4a0812" stroke-width="0.8"/>
<rect x="713.2" y="410.7" width="5.8" height="5.8" fill="#cf0b30" stroke="#4a0812" stroke-width="0.8"/>
<rect x="703.3" y="414.8" width="5.8" height="5.8" fill="#cf0b30" stroke="#4a0812" stroke-width="0.8"/>
<rect x="706.4" y="417.5" width="5.8" height="5.8" fill="#cf0b30" stroke="#4a0812" stroke-width="0.8"/>
<rect x="720.8" y="413.4" width="5.8" height="5.8" fill="#cf0b30" stroke="#4a0812" stroke-width="0.8"/>
<rect x="718.4" y="417.9" width="5.8" height="5.8" fill="#cf0b30" stroke="#4a0812" stroke-width="0.8"/>
<polygon points="740.55,342.75 747.45,342.75 744,348.85" fill="#4fb41a" stroke="#1c3008" stroke-width="0.75" stroke-linejoin="miter"/>
<polygon points="735.75,350.95 742.65,350.95 739.2,357.05" fill="#4fb41a" stroke="#1c3008" stroke-width="0.75" stroke-linejoin="miter"/>
<polygon points="743.65,360.25 750.55,360.25 747.1,366.35" fill="#4fb41a" stroke="#1c3008" stroke-width="0.75" stroke-linejoin="miter"/>
<polygon points="728.15,363.95 735.05,363.95 731.6,370.05" fill="#4fb41a" stroke="#1c3008" stroke-width="0.75" stroke-linejoin="miter"/>
<polygon points="750.85,375.35 757.75,375.35 754.3,381.45" fill="#4fb41a" stroke="#1c3008" stroke-width="0.75" stroke-linejoin="miter"/>
<polygon points="730.65,383.45 737.55,383.45 734.1,389.55" fill="#4fb41a" stroke="#1c3008" stroke-width="0.75" stroke-linejoin="miter"/>
<polygon points="756.05,389.85 762.95,389.85 759.5,395.95" fill="#4fb41a" stroke="#1c3008" stroke-width="0.75" stroke-linejoin="miter"/>
<polygon points="738.45,390.85 745.35,390.85 741.9,396.95" fill="#4fb41a" stroke="#1c3008" stroke-width="0.75" stroke-linejoin="miter"/>
<polygon points="730.65,398.05 737.55,398.05 734.1,404.15" fill="#4fb41a" stroke="#1c3008" stroke-width="0.75" stroke-linejoin="miter"/>
<polygon points="738.45,399.55 745.35,399.55 741.9,405.65" fill="#4fb41a" stroke="#1c3008" stroke-width="0.75" stroke-linejoin="miter"/>
<polygon points="738.45,407.75 745.35,407.75 741.9,413.85" fill="#4fb41a" stroke="#1c3008" stroke-width="0.75" stroke-linejoin="miter"/>
<polygon points="743.65,410.25 750.55,410.25 747.1,416.35" fill="#4fb41a" stroke="#1c3008" stroke-width="0.75" stroke-linejoin="miter"/>
<polygon points="728.15,412.35 735.05,412.35 731.6,418.45" fill="#4fb41a" stroke="#1c3008" stroke-width="0.75" stroke-linejoin="miter"/>
<polygon points="758.45,413.95 765.35,413.95 761.9,420.05" fill="#4fb41a" stroke="#1c3008" stroke-width="0.75" stroke-linejoin="miter"/>
<text x="609.92" y="351.7" font-size="15" text-anchor="start" font-weight="bold" >R</text>
<text x="621.38" y="346.5" font-size="9" text-anchor="start" font-weight="bold" >2</text>
<text x="631.5" y="351.7" font-size="15" text-anchor="start" font-weight="bold" >=</text>
<text x="645.1" y="351.7" font-size="15" text-anchor="start" textLength="29.4" lengthAdjust="spacingAndGlyphs" font-weight="bold" >0.05</text>
<path d="M850.7 253.5 V438 H1054" fill="none" stroke="#000" stroke-width="2.1" stroke-linecap="square"/>
<line x1="850.7" y1="253.5" x2="853.3" y2="253.5" stroke="#000" stroke-width="2" />
<line x1="850.7" y1="299.62" x2="853.3" y2="299.62" stroke="#000" stroke-width="2" />
<line x1="850.7" y1="345.75" x2="853.3" y2="345.75" stroke="#000" stroke-width="2" />
<line x1="850.7" y1="391.88" x2="853.3" y2="391.88" stroke="#000" stroke-width="2" />
<line x1="901.53" y1="438" x2="901.53" y2="435.4" stroke="#000" stroke-width="2" />
<line x1="952.35" y1="438" x2="952.35" y2="435.4" stroke="#000" stroke-width="2" />
<line x1="1003.17" y1="438" x2="1003.17" y2="435.4" stroke="#000" stroke-width="2" />
<line x1="1054" y1="438" x2="1054" y2="435.4" stroke="#000" stroke-width="2" />
<text x="844.8" y="259" font-size="15.5" text-anchor="end" textLength="23.79" lengthAdjust="spacingAndGlyphs" font-weight="bold" >800</text>
<text x="844.8" y="305.13" font-size="15.5" text-anchor="end" textLength="23.79" lengthAdjust="spacingAndGlyphs" font-weight="bold" >600</text>
<text x="844.8" y="351.25" font-size="15.5" text-anchor="end" textLength="23.79" lengthAdjust="spacingAndGlyphs" font-weight="bold" >400</text>
<text x="844.8" y="397.38" font-size="15.5" text-anchor="end" textLength="23.79" lengthAdjust="spacingAndGlyphs" font-weight="bold" >200</text>
<text x="844.8" y="443.5" font-size="15.5" text-anchor="end" textLength="7.93" lengthAdjust="spacingAndGlyphs" font-weight="bold" >0</text>
<text x="850.7" y="456.9" font-size="15.5" text-anchor="middle" textLength="7.93" lengthAdjust="spacingAndGlyphs" font-weight="bold" >1</text>
<text x="901.53" y="456.9" font-size="15.5" text-anchor="middle" textLength="19.82" lengthAdjust="spacingAndGlyphs" font-weight="bold" >1.1</text>
<text x="952.35" y="456.9" font-size="15.5" text-anchor="middle" textLength="19.82" lengthAdjust="spacingAndGlyphs" font-weight="bold" >1.2</text>
<text x="1003.17" y="456.9" font-size="15.5" text-anchor="middle" textLength="19.82" lengthAdjust="spacingAndGlyphs" font-weight="bold" >1.3</text>
<text x="1054" y="456.9" font-size="15.5" text-anchor="middle" textLength="19.82" lengthAdjust="spacingAndGlyphs" font-weight="bold" >1.4</text>
<text x="872.17" y="478.4" font-size="18" text-anchor="start" textLength="154.96" lengthAdjust="spacingAndGlyphs" font-weight="bold" >Max Circ. Stretch</text>
<text x="814" y="427.9" font-size="17" text-anchor="start" transform="rotate(-90 814 427.9)" textLength="163.8" lengthAdjust="spacingAndGlyphs" font-weight="bold" >Initial Modulus (kPa)</text>
<text x="802.93" y="257" font-size="19.5" text-anchor="start" font-weight="bold" >h</text>
<path d="M872.77 253.60 L872.87 255.40 L872.96 257.21 L873.05 259.01 L873.15 260.81 L873.25 262.62 L873.35 264.42 L873.46 266.22 L873.56 268.03 L873.67 269.83 L873.78 271.63 L873.89 273.44 L874.01 275.24 L874.13 277.04 L874.25 278.85 L874.37 280.65 L874.50 282.45 L874.63 284.26 L874.77 286.06 L874.90 287.86 L875.04 289.67 L875.19 291.47 L875.33 293.27 L875.48 295.08 L875.64 296.88 L875.80 298.68 L875.96 300.49 L876.13 302.29 L876.30 304.09 L876.48 305.90 L876.67 307.70 L876.85 309.51 L877.05 311.31 L877.25 313.11 L877.45 314.92 L877.67 316.72 L877.89 318.52 L878.11 320.33 L878.34 322.13 L878.59 323.93 L878.83 325.74 L879.09 327.54 L879.36 329.34 L879.63 331.15 L879.92 332.95 L880.22 334.75 L880.52 336.56 L880.84 338.36 L881.18 340.16 L881.52 341.97 L881.88 343.77 L882.25 345.57 L882.64 347.38 L883.05 349.18 L883.47 350.98 L883.91 352.79 L884.38 354.59 L884.86 356.39 L885.37 358.20 L885.90 360.00 L887.18 363.99 L888.46 367.57 L889.74 370.79 L891.01 373.71 L892.29 376.37 L893.57 378.81 L894.85 381.04 L896.13 383.10 L897.41 385.00 L898.68 386.76 L899.96 388.40 L901.24 389.92 L902.52 391.35 L903.80 392.68 L905.07 393.93 L906.35 395.11 L907.63 396.21 L908.91 397.26 L910.19 398.25 L911.46 399.18 L912.74 400.07 L914.02 400.91 L915.30 401.71 L916.58 402.47 L917.86 403.19 L919.13 403.88 L920.41 404.54 L921.69 405.17 L922.97 405.78 L924.25 406.35 L925.52 406.91 L926.80 407.44 L928.08 407.95 L929.36 408.44 L930.64 408.91 L931.91 409.37 L933.19 409.81 L934.47 410.23 L935.75 410.63 L937.03 411.03 L938.31 411.40 L939.58 411.77 L940.86 412.13 L942.14 412.47 L943.42 412.80 L944.70 413.12 L945.97 413.43 L947.25 413.73 L948.53 414.03 L949.81 414.31 L951.09 414.59 L952.36 414.85 L953.64 415.11 L954.92 415.37 L956.20 415.61 L957.48 415.85 L958.76 416.08 L960.03 416.31 L961.31 416.53 L962.59 416.74 L963.87 416.95 L965.15 417.16 L966.42 417.36 L967.70 417.55 L968.98 417.74 L970.26 417.92 L971.54 418.10 L972.82 418.28 L974.09 418.45 L975.37 418.62 L976.65 418.79 L977.93 418.95 L979.21 419.10 L980.48 419.26 L981.76 419.41 L983.04 419.55 L984.32 419.70 L985.60 419.84 L986.87 419.98 L988.15 420.11 L989.43 420.24 L990.71 420.37 L991.99 420.50 L993.27 420.63 L994.54 420.75 L995.82 420.87 L997.10 420.99 L998.38 421.10 L999.66 421.21 L1000.93 421.33 L1002.21 421.43 L1003.49 421.54 L1004.77 421.65 L1006.05 421.75 L1007.32 421.85 L1008.60 421.95 L1009.88 422.05 L1011.16 422.14 L1012.44 422.24 L1013.72 422.33 L1014.99 422.42 L1016.27 422.51 L1017.55 422.60 L1018.83 422.69 L1020.11 422.77 L1021.38 422.86 L1022.66 422.94 L1023.94 423.02 L1025.22 423.10 L1026.50 423.18 L1027.77 423.26 L1029.05 423.33 L1030.33 423.41 L1031.61 423.48 L1032.89 423.56 L1034.17 423.63 L1035.44 423.70 L1036.72 423.77 L1038.00 423.84" fill="none" stroke="#000" stroke-width="2" stroke-dasharray="6 6.2"/>
<circle cx="879.1" cy="286.7" r="3.1" fill="#0a72cf" stroke="#0a2548" stroke-width="0.8"/>
<circle cx="888.8" cy="363.7" r="3.1" fill="#0a72cf" stroke="#0a2548" stroke-width="0.8"/>
<circle cx="904" cy="370.9" r="3.1" fill="#0a72cf" stroke="#0a2548" stroke-width="0.8"/>
<circle cx="905.2" cy="376.9" r="3.1" fill="#0a72cf" stroke="#0a2548" stroke-width="0.8"/>
<circle cx="912.4" cy="396.7" r="3.1" fill="#0a72cf" stroke="#0a2548" stroke-width="0.8"/>
<circle cx="929.2" cy="402.3" r="3.1" fill="#0a72cf" stroke="#0a2548" stroke-width="0.8"/>
<circle cx="934.5" cy="410.8" r="3.1" fill="#0a72cf" stroke="#0a2548" stroke-width="0.8"/>
<circle cx="923" cy="417.8" r="3.1" fill="#0a72cf" stroke="#0a2548" stroke-width="0.8"/>
<circle cx="949.3" cy="408.3" r="3.1" fill="#0a72cf" stroke="#0a2548" stroke-width="0.8"/>
<circle cx="970.4" cy="410.7" r="3.1" fill="#0a72cf" stroke="#0a2548" stroke-width="0.8"/>
<circle cx="965.4" cy="416.9" r="3.1" fill="#0a72cf" stroke="#0a2548" stroke-width="0.8"/>
<circle cx="964.8" cy="423.6" r="3.1" fill="#0a72cf" stroke="#0a2548" stroke-width="0.8"/>
<circle cx="961.7" cy="420.3" r="3.1" fill="#0a72cf" stroke="#0a2548" stroke-width="0.8"/>
<circle cx="1032.4" cy="415.7" r="3.1" fill="#0a72cf" stroke="#0a2548" stroke-width="0.8"/>
<circle cx="949.9" cy="419.7" r="3.1" fill="#0a72cf" stroke="#0a2548" stroke-width="0.8"/>
<rect x="874.8" y="302.8" width="5.8" height="5.8" fill="#cf0b30" stroke="#4a0812" stroke-width="0.8"/>
<rect x="938" y="342" width="5.8" height="5.8" fill="#cf0b30" stroke="#4a0812" stroke-width="0.8"/>
<rect x="875.1" y="363.1" width="5.8" height="5.8" fill="#cf0b30" stroke="#4a0812" stroke-width="0.8"/>
<rect x="885.9" y="369" width="5.8" height="5.8" fill="#cf0b30" stroke="#4a0812" stroke-width="0.8"/>
<rect x="902.3" y="377.9" width="5.8" height="5.8" fill="#cf0b30" stroke="#4a0812" stroke-width="0.8"/>
<rect x="892.8" y="396.7" width="5.8" height="5.8" fill="#cf0b30" stroke="#4a0812" stroke-width="0.8"/>
<rect x="903.9" y="402.9" width="5.8" height="5.8" fill="#cf0b30" stroke="#4a0812" stroke-width="0.8"/>
<rect x="917.1" y="403.1" width="5.8" height="5.8" fill="#cf0b30" stroke="#4a0812" stroke-width="0.8"/>
<rect x="926.4" y="410.3" width="5.8" height="5.8" fill="#cf0b30" stroke="#4a0812" stroke-width="0.8"/>
<rect x="929.5" y="414.3" width="5.8" height="5.8" fill="#cf0b30" stroke="#4a0812" stroke-width="0.8"/>
<rect x="934.7" y="414.3" width="5.8" height="5.8" fill="#cf0b30" stroke="#4a0812" stroke-width="0.8"/>
<rect x="939.7" y="418" width="5.8" height="5.8" fill="#cf0b30" stroke="#4a0812" stroke-width="0.8"/>
<rect x="945.9" y="416.8" width="5.8" height="5.8" fill="#cf0b30" stroke="#4a0812" stroke-width="0.8"/>
<rect x="954.1" y="419" width="5.8" height="5.8" fill="#cf0b30" stroke="#4a0812" stroke-width="0.8"/>
<rect x="939.6" y="417.8" width="5.8" height="5.8" fill="#cf0b30" stroke="#4a0812" stroke-width="0.8"/>
<polygon points="880.75,342.35 887.65,342.35 884.2,348.45" fill="#4fb41a" stroke="#1c3008" stroke-width="0.75" stroke-linejoin="miter"/>
<polygon points="888.55,351.05 895.45,351.05 892,357.15" fill="#4fb41a" stroke="#1c3008" stroke-width="0.75" stroke-linejoin="miter"/>
<polygon points="881.95,360.45 888.85,360.45 885.4,366.55" fill="#4fb41a" stroke="#1c3008" stroke-width="0.75" stroke-linejoin="miter"/>
<polygon points="886.05,363.85 892.95,363.85 889.5,369.95" fill="#4fb41a" stroke="#1c3008" stroke-width="0.75" stroke-linejoin="miter"/>
<polygon points="888.15,375.35 895.05,375.35 891.6,381.45" fill="#4fb41a" stroke="#1c3008" stroke-width="0.75" stroke-linejoin="miter"/>
<polygon points="882.65,390.25 889.55,390.25 886.1,396.35" fill="#4fb41a" stroke="#1c3008" stroke-width="0.75" stroke-linejoin="miter"/>
<polygon points="916.15,384.05 923.05,384.05 919.6,390.15" fill="#4fb41a" stroke="#1c3008" stroke-width="0.75" stroke-linejoin="miter"/>
<polygon points="909.35,390.65 916.25,390.65 912.8,396.75" fill="#4fb41a" stroke="#1c3008" stroke-width="0.75" stroke-linejoin="miter"/>
<polygon points="906.45,398.05 913.35,398.05 909.9,404.15" fill="#4fb41a" stroke="#1c3008" stroke-width="0.75" stroke-linejoin="miter"/>
<polygon points="913.45,399.35 920.35,399.35 916.9,405.45" fill="#4fb41a" stroke="#1c3008" stroke-width="0.75" stroke-linejoin="miter"/>
<polygon points="919.25,408.05 926.15,408.05 922.7,414.15" fill="#4fb41a" stroke="#1c3008" stroke-width="0.75" stroke-linejoin="miter"/>
<polygon points="909.95,411.95 916.85,411.95 913.4,418.05" fill="#4fb41a" stroke="#1c3008" stroke-width="0.75" stroke-linejoin="miter"/>
<polygon points="913.65,410.95 920.55,410.95 917.1,417.05" fill="#4fb41a" stroke="#1c3008" stroke-width="0.75" stroke-linejoin="miter"/>
<polygon points="926.15,413.25 933.05,413.25 929.6,419.35" fill="#4fb41a" stroke="#1c3008" stroke-width="0.75" stroke-linejoin="miter"/>
<polygon points="942.85,414.05 949.75,414.05 946.3,420.15" fill="#4fb41a" stroke="#1c3008" stroke-width="0.75" stroke-linejoin="miter"/>
<polygon points="942.15,413.85 949.05,413.85 945.6,419.95" fill="#4fb41a" stroke="#1c3008" stroke-width="0.75" stroke-linejoin="miter"/>
<text x="971.02" y="384.8" font-size="15" text-anchor="start" font-weight="bold" >R</text>
<text x="982.68" y="379.8" font-size="9" text-anchor="start" font-weight="bold" >2</text>
<text x="992.4" y="384.8" font-size="15" text-anchor="start" font-weight="bold" >=</text>
<text x="1005.27" y="384.8" font-size="15" text-anchor="start" textLength="30.58" lengthAdjust="spacingAndGlyphs" font-weight="bold" >0.72</text>
</svg></body></html>
